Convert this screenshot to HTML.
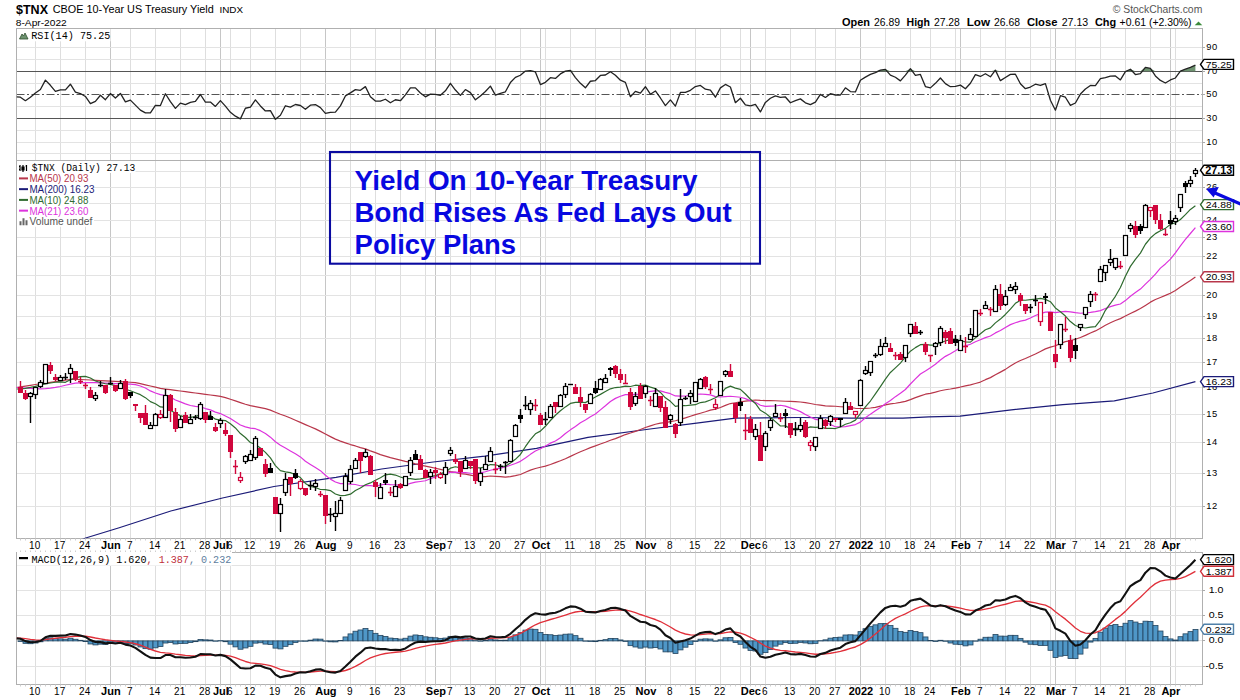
<!DOCTYPE html>
<html><head><meta charset="utf-8"><style>
html,body{margin:0;padding:0;background:#fff;}
body{width:1240px;height:700px;overflow:hidden;}
svg{display:block;}
</style></head><body>
<svg width="1240" height="700" viewBox="0 0 1240 700">
<rect width="1240" height="700" fill="#fff"/>
<defs><clipPath id="cr"><rect x="16.5" y="28.5" width="1186" height="132"/></clipPath><clipPath id="cp"><rect x="16.5" y="160.5" width="1186" height="378"/></clipPath><clipPath id="cm"><rect x="16.5" y="552.5" width="1186" height="132"/></clipPath></defs>
<path d="M35.5 28.5V160.5M60.5 28.5V160.5M85.5 28.5V160.5M130.5 28.5V160.5M155.5 28.5V160.5M180.5 28.5V160.5M205.5 28.5V160.5M230.5 28.5V160.5M250.5 28.5V160.5M275.5 28.5V160.5M300.5 28.5V160.5M350.5 28.5V160.5M375.5 28.5V160.5M400.5 28.5V160.5M425.5 28.5V160.5M450.5 28.5V160.5M470.5 28.5V160.5M495.5 28.5V160.5M520.5 28.5V160.5M545.5 28.5V160.5M570.5 28.5V160.5M595.5 28.5V160.5M620.5 28.5V160.5M670.5 28.5V160.5M695.5 28.5V160.5M720.5 28.5V160.5M740.5 28.5V160.5M765.5 28.5V160.5M790.5 28.5V160.5M815.5 28.5V160.5M835.5 28.5V160.5M885.5 28.5V160.5M910.5 28.5V160.5M930.5 28.5V160.5M955.5 28.5V160.5M980.5 28.5V160.5M1005.5 28.5V160.5M1030.5 28.5V160.5M1050.5 28.5V160.5M1075.5 28.5V160.5M1100.5 28.5V160.5M1125.5 28.5V160.5M1150.5 28.5V160.5M1175.5 28.5V160.5" stroke="#dedede" stroke-width="1" fill="none"/>
<path d="M110.5 28.5V160.5M220.5 28.5V160.5M325.5 28.5V160.5M435.5 28.5V160.5M540.5 28.5V160.5M645.5 28.5V160.5M750.5 28.5V160.5M860.5 28.5V160.5M960.5 28.5V160.5M1055.5 28.5V160.5M1170.5 28.5V160.5" stroke="#c6c6c6" stroke-width="1" fill="none"/>
<path d="M35.5 160.5V538.5M60.5 160.5V538.5M85.5 160.5V538.5M130.5 160.5V538.5M155.5 160.5V538.5M180.5 160.5V538.5M205.5 160.5V538.5M230.5 160.5V538.5M250.5 160.5V538.5M275.5 160.5V538.5M300.5 160.5V538.5M350.5 160.5V538.5M375.5 160.5V538.5M400.5 160.5V538.5M425.5 160.5V538.5M450.5 160.5V538.5M470.5 160.5V538.5M495.5 160.5V538.5M520.5 160.5V538.5M545.5 160.5V538.5M570.5 160.5V538.5M595.5 160.5V538.5M620.5 160.5V538.5M670.5 160.5V538.5M695.5 160.5V538.5M720.5 160.5V538.5M740.5 160.5V538.5M765.5 160.5V538.5M790.5 160.5V538.5M815.5 160.5V538.5M835.5 160.5V538.5M885.5 160.5V538.5M910.5 160.5V538.5M930.5 160.5V538.5M955.5 160.5V538.5M980.5 160.5V538.5M1005.5 160.5V538.5M1030.5 160.5V538.5M1050.5 160.5V538.5M1075.5 160.5V538.5M1100.5 160.5V538.5M1125.5 160.5V538.5M1150.5 160.5V538.5M1175.5 160.5V538.5" stroke="#dedede" stroke-width="1" fill="none"/>
<path d="M110.5 160.5V538.5M220.5 160.5V538.5M325.5 160.5V538.5M435.5 160.5V538.5M540.5 160.5V538.5M645.5 160.5V538.5M750.5 160.5V538.5M860.5 160.5V538.5M960.5 160.5V538.5M1055.5 160.5V538.5M1170.5 160.5V538.5" stroke="#c6c6c6" stroke-width="1" fill="none"/>
<path d="M35.5 552.5V684.5M60.5 552.5V684.5M85.5 552.5V684.5M130.5 552.5V684.5M155.5 552.5V684.5M180.5 552.5V684.5M205.5 552.5V684.5M230.5 552.5V684.5M250.5 552.5V684.5M275.5 552.5V684.5M300.5 552.5V684.5M350.5 552.5V684.5M375.5 552.5V684.5M400.5 552.5V684.5M425.5 552.5V684.5M450.5 552.5V684.5M470.5 552.5V684.5M495.5 552.5V684.5M520.5 552.5V684.5M545.5 552.5V684.5M570.5 552.5V684.5M595.5 552.5V684.5M620.5 552.5V684.5M670.5 552.5V684.5M695.5 552.5V684.5M720.5 552.5V684.5M740.5 552.5V684.5M765.5 552.5V684.5M790.5 552.5V684.5M815.5 552.5V684.5M835.5 552.5V684.5M885.5 552.5V684.5M910.5 552.5V684.5M930.5 552.5V684.5M955.5 552.5V684.5M980.5 552.5V684.5M1005.5 552.5V684.5M1030.5 552.5V684.5M1050.5 552.5V684.5M1075.5 552.5V684.5M1100.5 552.5V684.5M1125.5 552.5V684.5M1150.5 552.5V684.5M1175.5 552.5V684.5" stroke="#dedede" stroke-width="1" fill="none"/>
<path d="M110.5 552.5V684.5M220.5 552.5V684.5M325.5 552.5V684.5M435.5 552.5V684.5M540.5 552.5V684.5M645.5 552.5V684.5M750.5 552.5V684.5M860.5 552.5V684.5M960.5 552.5V684.5M1055.5 552.5V684.5M1170.5 552.5V684.5" stroke="#c6c6c6" stroke-width="1" fill="none"/>
<path d="M16.5 153.5H1202.5M16.5 142.5H1202.5M16.5 130.5H1202.5M16.5 106.5H1202.5M16.5 83.5H1202.5M16.5 59.5H1202.5M16.5 47.5H1202.5M16.5 506.5H1202.5M16.5 473.5H1202.5M16.5 442.5H1202.5M16.5 414.5H1202.5M16.5 387.5H1202.5M16.5 362.5H1202.5M16.5 338.5H1202.5M16.5 316.5H1202.5M16.5 295.5H1202.5M16.5 275.5H1202.5M16.5 256.5H1202.5M16.5 237.5H1202.5M16.5 220.5H1202.5M16.5 203.5H1202.5M16.5 187.5H1202.5M16.5 171.5H1202.5M16.5 666.5H1202.5M16.5 640.5H1202.5M16.5 615.5H1202.5M16.5 590.5H1202.5M16.5 565.5H1202.5" stroke="#e3e3e3" stroke-width="1" fill="none"/>
<path d="M16.5 71.5H1202.5M16.5 118.5H1202.5" stroke="#555" stroke-width="1"/>
<path d="M16.5 94.5H1202.5" stroke="#555" stroke-width="1" stroke-dasharray="8,2.5,2,2.5"/>
<rect x="16.5" y="28.5" width="1186" height="132" fill="none" stroke="#b0b0b0"/>
<rect x="16.5" y="160.5" width="1186" height="378" fill="none" stroke="#b0b0b0"/>
<rect x="16.5" y="552.5" width="1186" height="132" fill="none" stroke="#b0b0b0"/>
<g clip-path="url(#cr)"><path d="M16.5,71.25 L20.4,71.25 L25.4,71.25 L30.4,71.25 L35.4,71.25 L40.4,71.25 L45.4,71.25 L50.4,71.25 L55.4,71.25 L60.4,71.25 L65.4,71.25 L70.4,71.25 L75.4,71.25 L80.4,71.25 L85.4,71.25 L90.4,71.25 L95.4,71.25 L100.4,71.25 L105.4,71.25 L110.4,71.25 L115.4,71.25 L120.4,71.25 L125.4,71.25 L130.4,71.25 L135.4,71.25 L140.4,71.25 L145.4,71.25 L150.4,71.25 L155.4,71.25 L160.4,71.25 L165.4,71.25 L170.4,71.25 L175.4,71.25 L180.4,71.25 L185.4,71.25 L190.4,71.25 L195.4,71.25 L200.4,71.25 L205.4,71.25 L210.4,71.25 L215.4,71.25 L220.4,71.25 L225.4,71.25 L230.4,71.25 L235.4,71.25 L240.4,71.25 L245.4,71.25 L250.4,71.25 L255.4,71.25 L260.4,71.25 L265.4,71.25 L270.4,71.25 L275.4,71.25 L280.4,71.25 L285.4,71.25 L290.4,71.25 L295.4,71.25 L300.4,71.25 L305.4,71.25 L310.4,71.25 L315.4,71.25 L320.4,71.25 L325.4,71.25 L330.4,71.25 L335.4,71.25 L340.4,71.25 L345.4,71.25 L350.4,71.25 L355.4,71.25 L360.4,71.25 L365.4,71.25 L370.4,71.25 L375.4,71.25 L380.4,71.25 L385.4,71.25 L390.4,71.25 L395.4,71.25 L400.4,71.25 L405.4,71.25 L410.4,71.25 L415.4,71.25 L420.4,71.25 L425.4,71.25 L430.4,71.25 L435.4,71.25 L440.4,71.25 L445.4,71.25 L450.4,71.25 L455.4,71.25 L460.4,71.25 L465.4,71.25 L470.4,71.25 L475.4,71.25 L480.4,71.25 L485.4,71.25 L490.4,71.25 L495.4,71.25 L500.4,71.25 L505.4,71.25 L510.4,71.25 L515.4,71.25 L520.4,71.25 L525.4,71.04 L530.4,70.63 L535.4,71.25 L540.4,71.25 L545.4,71.25 L550.4,71.25 L555.4,71.25 L560.4,71.25 L565.4,71.13 L570.4,70.44 L575.4,71.25 L580.4,71.25 L585.4,71.25 L590.4,71.25 L595.4,71.25 L600.4,71.25 L605.4,71.25 L610.4,71.25 L615.4,71.25 L620.4,71.25 L625.4,71.25 L630.4,71.25 L635.4,71.25 L640.4,71.25 L645.4,71.25 L650.4,71.25 L655.4,71.25 L660.4,71.25 L665.4,71.25 L670.4,71.25 L675.4,71.25 L680.4,71.25 L685.4,71.25 L690.4,71.25 L695.4,71.25 L700.4,71.25 L705.4,71.25 L710.4,71.25 L715.4,71.25 L720.4,71.25 L725.4,71.25 L730.4,71.25 L735.4,71.25 L740.4,71.25 L745.4,71.25 L750.4,71.25 L755.4,71.25 L760.4,71.25 L765.4,71.25 L770.4,71.25 L775.4,71.25 L780.4,71.25 L785.4,71.25 L790.4,71.25 L795.4,71.25 L800.4,71.25 L805.4,71.25 L810.4,71.25 L815.4,71.25 L820.4,71.25 L825.4,71.25 L830.4,71.25 L835.4,71.25 L840.4,71.25 L845.4,71.25 L850.4,71.25 L855.4,71.25 L860.4,71.25 L865.4,71.25 L870.4,71.25 L875.4,71.25 L880.4,70.13 L885.4,69.35 L890.4,71.25 L895.4,71.25 L900.4,71.25 L905.4,71.25 L910.4,68.66 L915.4,71.25 L920.4,71.25 L925.4,71.25 L930.4,71.25 L935.4,71.25 L940.4,71.25 L945.4,71.25 L950.4,71.25 L955.4,71.25 L960.4,71.25 L965.4,71.25 L970.4,71.25 L975.4,71.25 L980.4,71.25 L985.4,71.25 L990.4,71.25 L995.4,70.15 L1000.4,71.25 L1005.4,71.25 L1010.4,71.25 L1015.4,71.25 L1020.4,71.25 L1025.4,71.25 L1030.4,71.25 L1035.4,71.25 L1040.4,71.25 L1045.4,71.25 L1050.4,71.25 L1055.4,71.25 L1060.4,71.25 L1065.4,71.25 L1070.4,71.25 L1075.4,71.25 L1080.4,71.25 L1085.4,71.25 L1090.4,71.25 L1095.4,71.25 L1100.4,71.25 L1105.4,71.25 L1110.4,71.25 L1115.4,71.25 L1120.4,71.25 L1125.4,71.25 L1130.4,69.23 L1135.4,71.25 L1140.4,71.25 L1145.4,67.37 L1150.4,68.41 L1155.4,71.25 L1160.4,71.25 L1165.4,71.25 L1170.4,71.25 L1175.4,71.25 L1180.4,71.09 L1185.4,69.13 L1190.4,67.4 L1195.4,65.19 L1195.4,71.25 L16.5,71.25 Z" fill="#6e9370" stroke="none"/><path d="M16.5,118.75 L20.4,118.75 L25.4,118.75 L30.4,118.75 L35.4,118.75 L40.4,118.75 L45.4,118.75 L50.4,118.75 L55.4,118.75 L60.4,118.75 L65.4,118.75 L70.4,118.75 L75.4,118.75 L80.4,118.75 L85.4,118.75 L90.4,118.75 L95.4,118.75 L100.4,118.75 L105.4,118.75 L110.4,118.75 L115.4,118.75 L120.4,118.75 L125.4,118.75 L130.4,118.75 L135.4,118.75 L140.4,118.75 L145.4,118.75 L150.4,118.75 L155.4,118.75 L160.4,118.75 L165.4,118.75 L170.4,118.75 L175.4,118.75 L180.4,118.75 L185.4,118.75 L190.4,118.75 L195.4,118.75 L200.4,118.75 L205.4,118.75 L210.4,118.75 L215.4,118.75 L220.4,118.75 L225.4,118.75 L230.4,118.75 L235.4,118.75 L240.4,118.88 L245.4,118.75 L250.4,118.75 L255.4,118.75 L260.4,118.75 L265.4,118.75 L270.4,118.75 L275.4,119.33 L280.4,118.75 L285.4,118.75 L290.4,118.75 L295.4,118.75 L300.4,118.75 L305.4,118.75 L310.4,118.75 L315.4,118.75 L320.4,118.75 L325.4,118.75 L330.4,118.75 L335.4,118.75 L340.4,118.75 L345.4,118.75 L350.4,118.75 L355.4,118.75 L360.4,118.75 L365.4,118.75 L370.4,118.75 L375.4,118.75 L380.4,118.75 L385.4,118.75 L390.4,118.75 L395.4,118.75 L400.4,118.75 L405.4,118.75 L410.4,118.75 L415.4,118.75 L420.4,118.75 L425.4,118.75 L430.4,118.75 L435.4,118.75 L440.4,118.75 L445.4,118.75 L450.4,118.75 L455.4,118.75 L460.4,118.75 L465.4,118.75 L470.4,118.75 L475.4,118.75 L480.4,118.75 L485.4,118.75 L490.4,118.75 L495.4,118.75 L500.4,118.75 L505.4,118.75 L510.4,118.75 L515.4,118.75 L520.4,118.75 L525.4,118.75 L530.4,118.75 L535.4,118.75 L540.4,118.75 L545.4,118.75 L550.4,118.75 L555.4,118.75 L560.4,118.75 L565.4,118.75 L570.4,118.75 L575.4,118.75 L580.4,118.75 L585.4,118.75 L590.4,118.75 L595.4,118.75 L600.4,118.75 L605.4,118.75 L610.4,118.75 L615.4,118.75 L620.4,118.75 L625.4,118.75 L630.4,118.75 L635.4,118.75 L640.4,118.75 L645.4,118.75 L650.4,118.75 L655.4,118.75 L660.4,118.75 L665.4,118.75 L670.4,118.75 L675.4,118.75 L680.4,118.75 L685.4,118.75 L690.4,118.75 L695.4,118.75 L700.4,118.75 L705.4,118.75 L710.4,118.75 L715.4,118.75 L720.4,118.75 L725.4,118.75 L730.4,118.75 L735.4,118.75 L740.4,118.75 L745.4,118.75 L750.4,118.75 L755.4,118.75 L760.4,118.75 L765.4,118.75 L770.4,118.75 L775.4,118.75 L780.4,118.75 L785.4,118.75 L790.4,118.75 L795.4,118.75 L800.4,118.75 L805.4,118.75 L810.4,118.75 L815.4,118.75 L820.4,118.75 L825.4,118.75 L830.4,118.75 L835.4,118.75 L840.4,118.75 L845.4,118.75 L850.4,118.75 L855.4,118.75 L860.4,118.75 L865.4,118.75 L870.4,118.75 L875.4,118.75 L880.4,118.75 L885.4,118.75 L890.4,118.75 L895.4,118.75 L900.4,118.75 L905.4,118.75 L910.4,118.75 L915.4,118.75 L920.4,118.75 L925.4,118.75 L930.4,118.75 L935.4,118.75 L940.4,118.75 L945.4,118.75 L950.4,118.75 L955.4,118.75 L960.4,118.75 L965.4,118.75 L970.4,118.75 L975.4,118.75 L980.4,118.75 L985.4,118.75 L990.4,118.75 L995.4,118.75 L1000.4,118.75 L1005.4,118.75 L1010.4,118.75 L1015.4,118.75 L1020.4,118.75 L1025.4,118.75 L1030.4,118.75 L1035.4,118.75 L1040.4,118.75 L1045.4,118.75 L1050.4,118.75 L1055.4,118.75 L1060.4,118.75 L1065.4,118.75 L1070.4,118.75 L1075.4,118.75 L1080.4,118.75 L1085.4,118.75 L1090.4,118.75 L1095.4,118.75 L1100.4,118.75 L1105.4,118.75 L1110.4,118.75 L1115.4,118.75 L1120.4,118.75 L1125.4,118.75 L1130.4,118.75 L1135.4,118.75 L1140.4,118.75 L1145.4,118.75 L1150.4,118.75 L1155.4,118.75 L1160.4,118.75 L1165.4,118.75 L1170.4,118.75 L1175.4,118.75 L1180.4,118.75 L1185.4,118.75 L1190.4,118.75 L1195.4,118.75 L1195.4,118.75 L16.5,118.75 Z" fill="#6e9370" stroke="none"/>
<polyline points="16.5,96.78 20.4,97.2 25.4,100.69 30.4,97.19 35.4,93.03 40.4,89.55 45.4,80.16 50.4,85.3 55.4,91.33 60.4,89.87 65.4,89.87 70.4,84.21 75.4,92.18 80.4,93.55 85.4,96.47 90.4,103.67 95.4,101.33 100.4,95.24 105.4,99.7 110.4,93.54 115.4,98.02 120.4,93.43 125.4,101.92 130.4,100.14 135.4,105.16 140.4,110.15 145.4,112.89 150.4,112.89 155.4,105.36 160.4,105.54 165.4,93.75 170.4,101.67 175.4,108.43 180.4,103.09 185.4,104.67 190.4,102.45 195.4,101.48 200.4,94.5 205.4,102.05 210.4,102.05 215.4,106.42 220.4,100.58 225.4,106.14 230.4,112.29 235.4,116.16 240.4,118.88 245.4,108.25 250.4,107.1 255.4,99.83 260.4,105.94 265.4,110.97 270.4,110.61 275.4,119.33 280.4,115.31 285.4,105.78 290.4,107.05 295.4,104.5 300.4,105.5 305.4,109.31 310.4,105.16 315.4,104.56 320.4,107.61 325.4,113.34 330.4,112.4 335.4,112.07 340.4,105.91 345.4,95.92 350.4,92.91 355.4,89.64 360.4,90.29 365.4,86.61 370.4,96.73 375.4,101.07 380.4,101.07 385.4,99.25 390.4,102.78 395.4,99.76 400.4,100.71 405.4,94.84 410.4,87.84 415.4,87.84 420.4,92.98 425.4,96.85 430.4,94.13 435.4,94.34 440.4,95.28 445.4,90.86 450.4,83.28 455.4,90.06 460.4,95.43 465.4,89.55 470.4,92.65 475.4,99.86 480.4,95.95 485.4,91.49 490.4,86.08 495.4,95.09 500.4,93.47 505.4,91.8 510.4,82.57 515.4,77.34 520.4,75.25 525.4,71.04 530.4,70.63 535.4,71.89 540.4,84.54 545.4,82.32 550.4,77.68 555.4,78.4 560.4,73.94 565.4,71.13 570.4,70.44 575.4,77.56 580.4,83.31 585.4,87.84 590.4,81.26 595.4,80.57 600.4,75.46 605.4,75.02 610.4,71.68 615.4,75.27 620.4,80.21 625.4,82.35 630.4,96.74 635.4,91.4 640.4,93.11 645.4,86.73 650.4,94.23 655.4,90.98 660.4,97.99 665.4,105.57 670.4,99.9 675.4,106.12 680.4,92.44 685.4,92.33 690.4,90.31 695.4,86.57 700.4,85.41 705.4,89.23 710.4,90.16 715.4,97.2 720.4,87.88 725.4,84.45 730.4,86.99 735.4,102.68 740.4,98.26 745.4,104.98 750.4,105.79 755.4,104.34 760.4,111.94 765.4,102.38 770.4,98.28 775.4,95.82 780.4,97.42 785.4,96.96 790.4,102.76 795.4,100.6 800.4,98.88 805.4,102.83 810.4,104.6 815.4,102.14 820.4,94.38 825.4,97.46 830.4,93.7 835.4,95 840.4,95 845.4,87.83 850.4,91.56 855.4,91.94 860.4,80.23 865.4,77.11 870.4,74.38 875.4,72.61 880.4,70.13 885.4,69.35 890.4,75.14 895.4,77.25 900.4,80.88 905.4,75.17 910.4,68.66 915.4,75.32 920.4,74.48 925.4,86.56 930.4,87.89 935.4,83.35 940.4,78.01 945.4,83.63 950.4,86.71 955.4,86.47 960.4,85.1 965.4,88.71 970.4,83.27 975.4,74.66 980.4,76.45 985.4,73.74 990.4,76.77 995.4,70.15 1000.4,80.67 1005.4,77.5 1010.4,74.37 1015.4,74.27 1020.4,83.68 1025.4,88.68 1030.4,87.01 1035.4,84.21 1040.4,85.48 1045.4,83.64 1050.4,100.21 1055.4,110.17 1060.4,95.67 1065.4,97.24 1070.4,105.42 1075.4,103.02 1080.4,94.07 1085.4,89.04 1090.4,85.42 1095.4,85.62 1100.4,78.7 1105.4,77.6 1110.4,76.03 1115.4,75.92 1120.4,79.9 1125.4,71.65 1130.4,69.23 1135.4,74.55 1140.4,73.62 1145.4,67.37 1150.4,68.41 1155.4,75.91 1160.4,80.43 1165.4,83.01 1170.4,79.93 1175.4,77.99 1180.4,71.09 1185.4,69.13 1190.4,67.4 1195.4,65.19" fill="none" stroke="#222" stroke-width="1.3" stroke-linejoin="round"/></g>
<g clip-path="url(#cp)">
<polyline points="70,545 85.7,538 119.2,527.7 170.8,511 222.5,498 274,486.5 336,477.4 381.6,469 433.2,462 484.8,456.1 536.5,448.4 588,437.3 650,429 696.6,423.2 735.3,418.1 799.8,417.5 851.5,418.1 903,418.1 928.9,416.8 960,416.2 1011.4,409.8 1062.9,404.6 1114.3,400.8 1152.9,393 1195.4,381.6" fill="none" stroke="#1b1b78" stroke-width="1.2" stroke-linejoin="round"/>
<polyline points="16.5,387.5 20.4,386.88 25.4,386.09 30.4,385.3 35.4,384.51 40.4,383.72 45.4,382.99 50.4,382.29 55.4,381.58 60.4,380.88 65.4,380.17 70.4,379.47 75.4,379.23 80.4,379.49 85.4,379.75 90.4,380.01 95.4,380.28 100.4,380.54 105.4,380.8 110.4,381.08 115.4,381.38 120.4,381.68 125.4,381.98 130.4,382.27 135.4,382.57 140.4,383.65 145.4,384.82 150.4,385.99 155.4,387.18 160.4,388.38 165.4,389.05 170.4,389.71 175.4,390.37 180.4,391.03 185.4,391.69 190.4,392.35 195.4,393.02 200.4,393.68 205.4,394.34 210.4,395 215.4,395.66 220.4,396.32 225.4,397.57 230.4,399.23 235.4,400.9 240.4,402.57 245.4,404.23 250.4,405.62 255.4,406.62 260.4,407.61 265.4,408.61 270.4,410.13 275.4,412.19 280.4,414.22 285.4,415.98 290.4,417.96 295.4,420.22 300.4,422.4 305.4,424.63 310.4,426.76 315.4,428.88 320.4,431.41 325.4,434.06 330.4,436.65 335.4,439.14 340.4,441.15 345.4,442.81 350.4,444.55 355.4,445.95 360.4,447.62 365.4,448.93 370.4,450.87 375.4,452.68 380.4,454.57 385.4,456.15 390.4,457.65 395.4,458.87 400.4,460.13 405.4,461.42 410.4,462.39 415.4,463.81 420.4,465.05 425.4,466.07 430.4,467.2 435.4,468.26 440.4,469.44 445.4,470.51 450.4,471.55 455.4,472.45 460.4,473.56 465.4,474.19 470.4,475.17 475.4,476.15 480.4,476.58 485.4,476.53 490.4,476 495.4,476.28 500.4,476.53 505.4,477.04 510.4,476.69 515.4,475.64 520.4,474.47 525.4,472.21 530.4,470.11 535.4,468.52 540.4,467.29 545.4,466.07 550.4,464.49 555.4,462.68 560.4,460.78 565.4,458.71 570.4,456.41 575.4,453.96 580.4,451.75 585.4,449.74 590.4,447.61 595.4,445.88 600.4,444 605.4,442.26 610.4,440.29 615.4,438.61 620.4,436.66 625.4,434.57 630.4,433.02 635.4,431.31 640.4,429.52 645.4,427.55 650.4,425.85 655.4,424.22 660.4,423.19 665.4,422.58 670.4,421.54 675.4,420.72 680.4,419.3 685.4,417.86 690.4,416.29 695.4,414.64 700.4,413.21 705.4,411.75 710.4,410.16 715.4,409.1 720.4,407.47 725.4,405.38 730.4,403.55 735.4,402.73 740.4,401.88 745.4,401.18 750.4,400.6 755.4,400.02 760.4,400.39 765.4,400.54 770.4,400.57 775.4,400.73 780.4,401.01 785.4,401.23 790.4,401.43 795.4,401.63 800.4,401.99 805.4,402.55 810.4,403.48 815.4,404.48 820.4,405.16 825.4,405.79 830.4,406.07 835.4,406.27 840.4,406.77 845.4,406.97 850.4,407.61 855.4,408.28 860.4,408.52 865.4,408.44 870.4,408.02 875.4,407.41 880.4,406.11 885.4,404.96 890.4,403.95 895.4,403.28 900.4,402.44 905.4,401.41 910.4,399.59 915.4,397.63 920.4,395.86 925.4,394.21 930.4,393.3 935.4,392.13 940.4,390.73 945.4,389.77 950.4,389.01 955.4,388.08 960.4,387.04 965.4,385.84 970.4,384.83 975.4,383.46 980.4,382.06 985.4,379.67 990.4,377.63 995.4,374.69 1000.4,372.1 1005.4,369.38 1010.4,365.92 1015.4,362.94 1020.4,360.54 1025.4,358.51 1030.4,356.31 1035.4,353.99 1040.4,351.41 1045.4,348.86 1050.4,347.1 1055.4,345.79 1060.4,343.62 1065.4,341.65 1070.4,340.58 1075.4,339.25 1080.4,337.53 1085.4,335.4 1090.4,333.01 1095.4,330.92 1100.4,328.15 1105.4,325.29 1110.4,322.82 1115.4,320.54 1120.4,318.59 1125.4,316.06 1130.4,313.45 1135.4,311.13 1140.4,308.59 1145.4,305.38 1150.4,302.14 1155.4,299.51 1160.4,297.49 1165.4,295.42 1170.4,293.18 1175.4,290.45 1180.4,287.11 1185.4,283.8 1190.4,280.6 1195.4,277.03" fill="none" stroke="#b8364a" stroke-width="1.2" stroke-linejoin="round"/>
<polyline points="16.5,387.5 20.4,387.76 25.4,388.09 30.4,388.42 35.4,388.71 40.4,388.94 45.4,388.61 50.4,388.09 55.4,387.39 60.4,386.51 65.4,385.22 70.4,384.11 75.4,383.12 80.4,382.84 85.4,382.66 90.4,382.51 95.4,382.69 100.4,382.87 105.4,383.04 110.4,383.31 115.4,383.62 120.4,383.93 125.4,384.2 130.4,384.05 135.4,384.61 140.4,386.02 145.4,388.02 150.4,390.9 155.4,392.96 160.4,394.6 165.4,395.47 170.4,397.1 175.4,400.01 180.4,401.91 185.4,403.9 190.4,405.5 195.4,406.39 200.4,406.86 205.4,408.55 210.4,409.86 215.4,412.14 220.4,413.58 225.4,416.03 230.4,418.53 235.4,421.79 240.4,425.04 245.4,426.81 250.4,428.12 255.4,428.72 260.4,430.68 265.4,433.44 270.4,437.16 275.4,441.78 280.4,445.18 285.4,448.04 290.4,450.95 295.4,453.79 300.4,456.89 305.4,461.32 310.4,464.48 315.4,467.6 320.4,470.65 325.4,475.26 330.4,479.11 335.4,482 340.4,483.61 345.4,483.58 350.4,484.2 355.4,484.52 360.4,485.73 365.4,485.53 370.4,485.57 375.4,486.23 380.4,485.01 385.4,484.04 390.4,484.67 395.4,484.76 400.4,485.28 405.4,485.05 410.4,483.37 415.4,482.17 420.4,481.51 425.4,480.78 430.4,478.79 435.4,476.92 440.4,475.17 445.4,473.62 450.4,472.38 455.4,472.07 460.4,472.65 465.4,472.59 470.4,473.26 475.4,473.52 480.4,472.86 485.4,471.75 490.4,470.22 495.4,469.16 500.4,468.21 505.4,466.98 510.4,465.22 515.4,463.45 520.4,461.35 525.4,458.07 530.4,454.37 535.4,451.05 540.4,448.74 545.4,446.08 550.4,443.15 555.4,441 560.4,437.72 565.4,433.56 570.4,429.86 575.4,426.44 580.4,422.85 585.4,419.98 590.4,416.76 595.4,414 600.4,409.84 605.4,405.8 610.4,401.49 615.4,398.38 620.4,396.27 625.4,394.59 630.4,394.7 635.4,394.36 640.4,394.1 645.4,392.31 650.4,391.44 655.4,390.82 660.4,390.84 665.4,392.33 670.4,393.69 675.4,395.96 680.4,396.2 685.4,396.01 690.4,395.22 695.4,394.64 700.4,394 705.4,394.37 710.4,394.89 715.4,396.61 720.4,396.99 725.4,396.57 730.4,396.25 735.4,396.77 740.4,397.25 745.4,398.65 750.4,400.85 755.4,402.21 760.4,405.27 765.4,406.44 770.4,406.11 775.4,405.98 780.4,405.26 785.4,406.11 790.4,407.82 795.4,409.56 800.4,411.61 805.4,414.4 810.4,417.07 815.4,419.39 820.4,420.04 825.4,422.27 830.4,424.56 835.4,426.75 840.4,426.8 845.4,426.6 850.4,425.64 855.4,424.57 860.4,422.11 865.4,417.73 870.4,414.13 875.4,410.82 880.4,407.43 885.4,403.69 890.4,400.48 895.4,396.63 900.4,393.34 905.4,389.49 910.4,384.01 915.4,378.9 920.4,373.96 925.4,370.92 930.4,367.69 935.4,364.31 940.4,360.06 945.4,356.35 950.4,353.68 955.4,350.67 960.4,347.49 965.4,345.93 970.4,344.23 975.4,341.76 980.4,339.72 985.4,337.68 990.4,335.99 995.4,332.9 1000.4,330.54 1005.4,327.48 1010.4,324.62 1015.4,322.74 1020.4,321.16 1025.4,320.17 1030.4,318.06 1035.4,315.52 1040.4,313.61 1045.4,312.18 1050.4,311.85 1055.4,312.66 1060.4,311.8 1065.4,311.3 1070.4,311.82 1075.4,312.59 1080.4,313.23 1085.4,312.92 1090.4,312.37 1095.4,311.63 1100.4,310.58 1105.4,308.5 1110.4,306.57 1115.4,305.1 1120.4,304.03 1125.4,300.62 1130.4,296.22 1135.4,292.58 1140.4,289.09 1145.4,284.09 1150.4,279.43 1155.4,274.13 1160.4,268.1 1165.4,263.92 1170.4,259.1 1175.4,252.92 1180.4,245.82 1185.4,239.46 1190.4,233.49 1195.4,227.63" fill="none" stroke="#dd33dd" stroke-width="1.2" stroke-linejoin="round"/>
<polyline points="16.5,389 20.4,388.81 25.4,388.44 30.4,387.44 35.4,386.31 40.4,385.03 45.4,383.97 50.4,382.98 55.4,382.23 60.4,381.84 65.4,382.31 70.4,379.78 75.4,377.81 80.4,376.57 85.4,376.38 90.4,377.96 95.4,381.01 100.4,382.47 105.4,383.74 110.4,384.32 115.4,385.64 120.4,387.24 125.4,389.21 130.4,390.7 135.4,392.74 140.4,394.67 145.4,397.65 150.4,401.6 155.4,403.73 160.4,406.94 165.4,407.44 170.4,410.34 175.4,413.33 180.4,415.66 185.4,417.33 190.4,417.39 195.4,416.55 200.4,414.43 205.4,415.03 210.4,415.59 215.4,419.15 220.4,420.05 225.4,420.55 230.4,423.79 235.4,427.94 240.4,433.57 245.4,437.48 250.4,442.55 255.4,444.4 260.4,448.05 265.4,452.39 270.4,457.81 275.4,465.58 280.4,470.64 285.4,471.95 290.4,472.63 295.4,474.8 300.4,477.59 305.4,483.48 310.4,486.48 315.4,487.44 320.4,489.48 325.4,489.68 330.4,490.62 335.4,493.97 340.4,495.57 345.4,495.45 350.4,494.15 355.4,490.52 360.4,488.07 365.4,484.77 370.4,482.91 375.4,480.19 380.4,477.67 385.4,474.84 390.4,474.11 395.4,475.06 400.4,477.02 405.4,478.68 410.4,478.57 415.4,479.44 420.4,478.93 425.4,478.03 430.4,476.58 435.4,475.56 440.4,473.83 445.4,471.9 450.4,468.18 455.4,466.76 460.4,467.95 465.4,467.92 470.4,467.49 475.4,467.75 480.4,467.79 485.4,466.86 490.4,464.53 495.4,464.79 500.4,466.28 505.4,466.28 510.4,463 515.4,459.34 520.4,454.45 525.4,446.71 530.4,439.66 535.4,433.78 540.4,431.13 545.4,426.27 550.4,420.51 555.4,415.25 560.4,410.79 565.4,406.89 570.4,403.41 575.4,402.29 580.4,402.18 585.4,402.64 590.4,399.67 595.4,397.08 600.4,394.38 605.4,391.45 610.4,388.82 615.4,387.53 620.4,387.11 625.4,386.05 630.4,386.5 635.4,385.21 640.4,385.71 645.4,385.04 650.4,387.08 655.4,388.57 660.4,392.45 665.4,397.8 670.4,401.34 675.4,406.36 680.4,405.5 685.4,405.72 690.4,405.04 695.4,404.69 700.4,402.54 705.4,401.93 710.4,400.03 715.4,397.8 720.4,394.4 725.4,388.35 730.4,386.16 735.4,388.08 740.4,389.39 745.4,393.98 750.4,399.25 755.4,403.42 760.4,410.32 765.4,413.15 770.4,417.21 775.4,421.61 780.4,425.99 785.4,425.79 790.4,428.72 795.4,428.66 800.4,427.84 805.4,428.6 810.4,426.9 815.4,427.28 820.4,427.02 825.4,428.37 830.4,428.23 835.4,428.55 840.4,426.99 845.4,424.21 850.4,422.71 855.4,420.11 860.4,413.73 865.4,406.91 870.4,401.03 875.4,393.81 880.4,386.66 885.4,379.05 890.4,372.45 895.4,367.82 900.4,363.09 905.4,356.81 910.4,351.2 915.4,347.62 920.4,344.66 925.4,344.37 930.4,345.18 935.4,345.11 940.4,342.68 945.4,340.98 950.4,339.35 955.4,339.13 960.4,340.73 965.4,341.93 970.4,342.15 975.4,337.87 980.4,333.67 985.4,329.78 990.4,327.87 995.4,322.86 1000.4,319.1 1005.4,314.46 1010.4,309.15 1015.4,303.33 1020.4,300.22 1025.4,300.27 1030.4,299.66 1035.4,299.17 1040.4,298.46 1045.4,299.34 1050.4,301.74 1055.4,307.95 1060.4,311.73 1065.4,316.05 1070.4,321.57 1075.4,325.54 1080.4,327.28 1085.4,327.98 1090.4,327.08 1095.4,326.67 1100.4,320.12 1105.4,310.29 1110.4,303.48 1115.4,296.29 1120.4,287.47 1125.4,276.18 1130.4,266.37 1135.4,259.3 1140.4,253.12 1145.4,244.25 1150.4,238.02 1155.4,233.62 1160.4,230.71 1165.4,228.35 1170.4,224.4 1175.4,222.7 1180.4,219.54 1185.4,214.66 1190.4,209.43 1195.4,205.78" fill="none" stroke="#2f6b2f" stroke-width="1.2" stroke-linejoin="round"/>
<path d="M20.5 381V387M20.5 393V393" stroke="#d0063c" stroke-width="1.4"/><rect x="18" y="387" width="5" height="6" fill="#d0063c"/><path d="M25.5 390V393M25.5 399V400" stroke="#d0063c" stroke-width="1.4"/><rect x="23" y="393" width="5" height="6" fill="#d0063c"/><path d="M30.5 392V394M30.5 395V423" stroke="#000" stroke-width="1.4"/><rect x="28.5" y="393.5" width="4" height="3" fill="#fff" stroke="#000" stroke-width="1.2"/><path d="M35.5 387V387M35.5 394V399" stroke="#000" stroke-width="1.4"/><rect x="33.5" y="387.5" width="4" height="7" fill="#fff" stroke="#000" stroke-width="1.2"/><path d="M40.5 380V382M40.5 386V388" stroke="#000" stroke-width="1.4"/><rect x="38.5" y="382.5" width="4" height="4" fill="#fff" stroke="#000" stroke-width="1.2"/><path d="M45.5 364V364M45.5 383V383" stroke="#000" stroke-width="1.4"/><rect x="43.5" y="364.5" width="4" height="19" fill="#fff" stroke="#000" stroke-width="1.2"/><path d="M50.5 362V365M50.5 371V374" stroke="#d0063c" stroke-width="1.4"/><rect x="48" y="365" width="5" height="6" fill="#d0063c"/><path d="M55.5 374V377M55.5 380V381" stroke="#d0063c" stroke-width="1.4"/><rect x="53" y="377" width="5" height="3" fill="#d0063c"/><path d="M60.5 375V377M60.5 379V381" stroke="#000" stroke-width="1.4"/><rect x="58.5" y="377.5" width="4" height="3" fill="#fff" stroke="#000" stroke-width="1.2"/><path d="M65.5 373V380M63 377.5H68" stroke="#000" stroke-width="1.4"/><path d="M70.5 364V368M70.5 373V383" stroke="#000" stroke-width="1.4"/><rect x="68.5" y="368.5" width="4" height="5" fill="#fff" stroke="#000" stroke-width="1.2"/><path d="M75.5 371V371M75.5 379V381" stroke="#d0063c" stroke-width="1.4"/><rect x="73" y="371" width="5" height="8" fill="#d0063c"/><path d="M80.5 377V384M78 381.5H83" stroke="#d0063c" stroke-width="1.4"/><path d="M85.5 383V389M83 385.5H88" stroke="#d0063c" stroke-width="1.4"/><path d="M90.5 387V390M90.5 398V398" stroke="#d0063c" stroke-width="1.4"/><rect x="88" y="390" width="5" height="8" fill="#d0063c"/><path d="M95.5 392V395M95.5 398V401" stroke="#000" stroke-width="1.4"/><rect x="93.5" y="395.5" width="4" height="3" fill="#fff" stroke="#000" stroke-width="1.2"/><path d="M100.5 381V387M98 385.5H103" stroke="#000" stroke-width="1.4"/><path d="M105.5 385V385M105.5 393V394" stroke="#d0063c" stroke-width="1.4"/><rect x="103" y="385" width="5" height="8" fill="#d0063c"/><path d="M110.5 377V385M108 383.5H113" stroke="#000" stroke-width="1.4"/><path d="M115.5 385V385M115.5 391V392" stroke="#d0063c" stroke-width="1.4"/><rect x="113" y="385" width="5" height="6" fill="#d0063c"/><path d="M120.5 380V383M120.5 388V389" stroke="#000" stroke-width="1.4"/><rect x="118.5" y="383.5" width="4" height="5" fill="#fff" stroke="#000" stroke-width="1.2"/><path d="M125.5 379V381M125.5 399V400" stroke="#d0063c" stroke-width="1.4"/><rect x="123" y="381" width="5" height="18" fill="#d0063c"/><path d="M130.5 392V392M130.5 396V398" stroke="#000" stroke-width="1.4"/><rect x="128" y="392" width="5" height="4" fill="#000"/><path d="M135.5 404V404M135.5 406V411" stroke="#d0063c" stroke-width="1.4"/><rect x="133" y="404" width="5" height="2" fill="#d0063c"/><path d="M140.5 413V413M140.5 418V423" stroke="#d0063c" stroke-width="1.4"/><rect x="138" y="413" width="5" height="5" fill="#d0063c"/><path d="M145.5 405V413M145.5 425V425" stroke="#d0063c" stroke-width="1.4"/><rect x="143" y="413" width="5" height="12" fill="#d0063c"/><path d="M150.5 422V425M150.5 428V428" stroke="#000" stroke-width="1.4"/><rect x="148.5" y="425.5" width="4" height="3" fill="#fff" stroke="#000" stroke-width="1.2"/><path d="M155.5 413V414M155.5 425V425" stroke="#000" stroke-width="1.4"/><rect x="153.5" y="414.5" width="4" height="11" fill="#fff" stroke="#000" stroke-width="1.2"/><path d="M160.5 410V415M160.5 416V419" stroke="#d0063c" stroke-width="1.4"/><rect x="158.5" y="414.5" width="4" height="3" fill="#fff" stroke="#d0063c" stroke-width="1.2"/><path d="M165.5 389V395M165.5 417V418" stroke="#000" stroke-width="1.4"/><rect x="163.5" y="395.5" width="4" height="22" fill="#fff" stroke="#000" stroke-width="1.2"/><path d="M170.5 394V395M170.5 411V422" stroke="#d0063c" stroke-width="1.4"/><rect x="168" y="395" width="5" height="16" fill="#d0063c"/><path d="M175.5 408V412M175.5 429V432" stroke="#d0063c" stroke-width="1.4"/><rect x="173" y="412" width="5" height="17" fill="#d0063c"/><path d="M180.5 416V419M180.5 427V427" stroke="#000" stroke-width="1.4"/><rect x="178.5" y="419.5" width="4" height="8" fill="#fff" stroke="#000" stroke-width="1.2"/><path d="M185.5 412V415M185.5 423V423" stroke="#d0063c" stroke-width="1.4"/><rect x="183" y="415" width="5" height="8" fill="#d0063c"/><path d="M190.5 414V419M190.5 423V424" stroke="#000" stroke-width="1.4"/><rect x="188.5" y="419.5" width="4" height="4" fill="#fff" stroke="#000" stroke-width="1.2"/><path d="M195.5 415V420M193 417.5H198" stroke="#000" stroke-width="1.4"/><path d="M200.5 402V404M200.5 418V420" stroke="#000" stroke-width="1.4"/><rect x="198.5" y="404.5" width="4" height="14" fill="#fff" stroke="#000" stroke-width="1.2"/><path d="M205.5 412V412M205.5 420V423" stroke="#d0063c" stroke-width="1.4"/><rect x="203" y="412" width="5" height="8" fill="#d0063c"/><path d="M210.5 411V416M210.5 420V420" stroke="#000" stroke-width="1.4"/><rect x="208" y="416" width="5" height="4" fill="#000"/><path d="M215.5 423V427M215.5 431V432" stroke="#d0063c" stroke-width="1.4"/><rect x="213" y="427" width="5" height="4" fill="#d0063c"/><path d="M220.5 418V420M220.5 423V428" stroke="#000" stroke-width="1.4"/><rect x="218.5" y="420.5" width="4" height="3" fill="#fff" stroke="#000" stroke-width="1.2"/><path d="M225.5 423V430M225.5 434V436" stroke="#d0063c" stroke-width="1.4"/><rect x="223" y="430" width="5" height="4" fill="#d0063c"/><path d="M230.5 435V435M230.5 452V458" stroke="#d0063c" stroke-width="1.4"/><rect x="228" y="435" width="5" height="17" fill="#d0063c"/><path d="M235.5 460V474M233 466.5H238" stroke="#d0063c" stroke-width="1.4"/><path d="M240.5 472V477M240.5 479V483" stroke="#d0063c" stroke-width="1.4"/><rect x="238.5" y="477.5" width="4" height="3" fill="#fff" stroke="#d0063c" stroke-width="1.2"/><path d="M245.5 455V456M245.5 461V464" stroke="#000" stroke-width="1.4"/><rect x="243.5" y="456.5" width="4" height="5" fill="#fff" stroke="#000" stroke-width="1.2"/><path d="M250.5 450V454M250.5 460V461" stroke="#000" stroke-width="1.4"/><rect x="248.5" y="454.5" width="4" height="6" fill="#fff" stroke="#000" stroke-width="1.2"/><path d="M255.5 436V438M255.5 457V460" stroke="#000" stroke-width="1.4"/><rect x="253.5" y="438.5" width="4" height="19" fill="#fff" stroke="#000" stroke-width="1.2"/><path d="M260.5 448V448M260.5 456V456" stroke="#d0063c" stroke-width="1.4"/><rect x="258" y="448" width="5" height="8" fill="#d0063c"/><path d="M265.5 459V464M265.5 474V477" stroke="#d0063c" stroke-width="1.4"/><rect x="263" y="464" width="5" height="10" fill="#d0063c"/><path d="M270.5 463V468M270.5 473V473" stroke="#000" stroke-width="1.4"/><rect x="268" y="468" width="5" height="5" fill="#000"/><path d="M275.5 497V497M275.5 514V514" stroke="#d0063c" stroke-width="1.4"/><rect x="273" y="497" width="5" height="17" fill="#d0063c"/><path d="M280.5 498V504M280.5 513V532" stroke="#000" stroke-width="1.4"/><rect x="278.5" y="504.5" width="4" height="9" fill="#fff" stroke="#000" stroke-width="1.2"/><path d="M285.5 473V479M285.5 492V496" stroke="#000" stroke-width="1.4"/><rect x="283.5" y="479.5" width="4" height="13" fill="#fff" stroke="#000" stroke-width="1.2"/><path d="M290.5 477V477M290.5 484V496" stroke="#d0063c" stroke-width="1.4"/><rect x="288" y="477" width="5" height="7" fill="#d0063c"/><path d="M295.5 469V473M295.5 478V479" stroke="#000" stroke-width="1.4"/><rect x="293" y="473" width="5" height="5" fill="#000"/><path d="M300.5 479V481M300.5 488V490" stroke="#d0063c" stroke-width="1.4"/><rect x="298.5" y="481.5" width="4" height="7" fill="#fff" stroke="#d0063c" stroke-width="1.2"/><path d="M305.5 488V488M305.5 495V496" stroke="#d0063c" stroke-width="1.4"/><rect x="303" y="488" width="5" height="7" fill="#d0063c"/><path d="M310.5 481V490M308 485.5H313" stroke="#000" stroke-width="1.4"/><path d="M315.5 479V484M315.5 486V491" stroke="#000" stroke-width="1.4"/><rect x="313.5" y="483.5" width="4" height="3" fill="#fff" stroke="#000" stroke-width="1.2"/><path d="M320.5 491V497M318 494.5H323" stroke="#d0063c" stroke-width="1.4"/><path d="M325.5 495V495M325.5 516V524" stroke="#d0063c" stroke-width="1.4"/><rect x="323" y="495" width="5" height="21" fill="#d0063c"/><path d="M330.5 508V522M328 514.5H333" stroke="#000" stroke-width="1.4"/><path d="M335.5 501V513M335.5 516V531" stroke="#000" stroke-width="1.4"/><rect x="333.5" y="513.5" width="4" height="3" fill="#fff" stroke="#000" stroke-width="1.2"/><path d="M340.5 497V500M340.5 513V513" stroke="#000" stroke-width="1.4"/><rect x="338.5" y="500.5" width="4" height="13" fill="#fff" stroke="#000" stroke-width="1.2"/><path d="M345.5 473V476M345.5 490V490" stroke="#000" stroke-width="1.4"/><rect x="343.5" y="476.5" width="4" height="14" fill="#fff" stroke="#000" stroke-width="1.2"/><path d="M350.5 465V469M350.5 481V484" stroke="#000" stroke-width="1.4"/><rect x="348.5" y="469.5" width="4" height="12" fill="#fff" stroke="#000" stroke-width="1.2"/><path d="M355.5 458V460M355.5 468V469" stroke="#000" stroke-width="1.4"/><rect x="353.5" y="460.5" width="4" height="8" fill="#fff" stroke="#000" stroke-width="1.2"/><path d="M360.5 452V452M360.5 461V473" stroke="#d0063c" stroke-width="1.4"/><rect x="358" y="452" width="5" height="9" fill="#d0063c"/><path d="M365.5 449V452M365.5 456V458" stroke="#000" stroke-width="1.4"/><rect x="363.5" y="452.5" width="4" height="4" fill="#fff" stroke="#000" stroke-width="1.2"/><path d="M370.5 455V456M370.5 475V475" stroke="#d0063c" stroke-width="1.4"/><rect x="368" y="456" width="5" height="19" fill="#d0063c"/><path d="M375.5 480V482M375.5 487V497" stroke="#d0063c" stroke-width="1.4"/><rect x="373" y="482" width="5" height="5" fill="#d0063c"/><path d="M380.5 483V487M380.5 498V499" stroke="#000" stroke-width="1.4"/><rect x="378.5" y="487.5" width="4" height="11" fill="#fff" stroke="#000" stroke-width="1.2"/><path d="M385.5 473V480M385.5 483V485" stroke="#000" stroke-width="1.4"/><rect x="383" y="480" width="5" height="3" fill="#000"/><path d="M390.5 487V496M388 492.5H393" stroke="#d0063c" stroke-width="1.4"/><path d="M395.5 480V486M395.5 496V496" stroke="#000" stroke-width="1.4"/><rect x="393.5" y="486.5" width="4" height="10" fill="#fff" stroke="#000" stroke-width="1.2"/><path d="M400.5 483V484M400.5 488V489" stroke="#d0063c" stroke-width="1.4"/><rect x="398" y="484" width="5" height="4" fill="#d0063c"/><path d="M405.5 476V476M405.5 485V485" stroke="#000" stroke-width="1.4"/><rect x="403.5" y="476.5" width="4" height="9" fill="#fff" stroke="#000" stroke-width="1.2"/><path d="M410.5 457V460M410.5 472V476" stroke="#000" stroke-width="1.4"/><rect x="408.5" y="460.5" width="4" height="12" fill="#fff" stroke="#000" stroke-width="1.2"/><path d="M415.5 450V454M415.5 460V460" stroke="#000" stroke-width="1.4"/><rect x="413" y="454" width="5" height="6" fill="#000"/><path d="M420.5 455V459M420.5 470V470" stroke="#d0063c" stroke-width="1.4"/><rect x="418" y="459" width="5" height="11" fill="#d0063c"/><path d="M425.5 469V470M425.5 478V478" stroke="#d0063c" stroke-width="1.4"/><rect x="423" y="470" width="5" height="8" fill="#d0063c"/><path d="M430.5 469V472M430.5 476V484" stroke="#000" stroke-width="1.4"/><rect x="428.5" y="472.5" width="4" height="4" fill="#fff" stroke="#000" stroke-width="1.2"/><path d="M435.5 467V470M435.5 473V479" stroke="#d0063c" stroke-width="1.4"/><rect x="433" y="470" width="5" height="3" fill="#d0063c"/><path d="M440.5 472V475M440.5 477V479" stroke="#d0063c" stroke-width="1.4"/><rect x="438.5" y="474.5" width="4" height="3" fill="#fff" stroke="#d0063c" stroke-width="1.2"/><path d="M445.5 462V467M445.5 474V484" stroke="#000" stroke-width="1.4"/><rect x="443.5" y="467.5" width="4" height="7" fill="#fff" stroke="#000" stroke-width="1.2"/><path d="M450.5 447V451M450.5 453V456" stroke="#000" stroke-width="1.4"/><rect x="448.5" y="450.5" width="4" height="3" fill="#fff" stroke="#000" stroke-width="1.2"/><path d="M455.5 454V459M455.5 462V464" stroke="#d0063c" stroke-width="1.4"/><rect x="453" y="459" width="5" height="3" fill="#d0063c"/><path d="M460.5 461V461M460.5 472V477" stroke="#d0063c" stroke-width="1.4"/><rect x="458" y="461" width="5" height="11" fill="#d0063c"/><path d="M465.5 456V460M465.5 468V468" stroke="#000" stroke-width="1.4"/><rect x="463.5" y="460.5" width="4" height="8" fill="#fff" stroke="#000" stroke-width="1.2"/><path d="M470.5 461V461M470.5 466V469" stroke="#d0063c" stroke-width="1.4"/><rect x="468" y="461" width="5" height="5" fill="#d0063c"/><path d="M475.5 459V459M475.5 481V484" stroke="#d0063c" stroke-width="1.4"/><rect x="473" y="459" width="5" height="22" fill="#d0063c"/><path d="M480.5 468V473M480.5 481V486" stroke="#000" stroke-width="1.4"/><rect x="478.5" y="473.5" width="4" height="8" fill="#fff" stroke="#000" stroke-width="1.2"/><path d="M485.5 456V464M485.5 469V469" stroke="#000" stroke-width="1.4"/><rect x="483.5" y="464.5" width="4" height="5" fill="#fff" stroke="#000" stroke-width="1.2"/><path d="M490.5 447V451M490.5 461V461" stroke="#000" stroke-width="1.4"/><rect x="488.5" y="451.5" width="4" height="10" fill="#fff" stroke="#000" stroke-width="1.2"/><path d="M495.5 462V474M493 469.5H498" stroke="#d0063c" stroke-width="1.4"/><path d="M500.5 464V471M498 466.5H503" stroke="#000" stroke-width="1.4"/><path d="M505.5 461V474M503 462.5H508" stroke="#000" stroke-width="1.4"/><path d="M510.5 439V440M510.5 461V461" stroke="#000" stroke-width="1.4"/><rect x="508.5" y="440.5" width="4" height="21" fill="#fff" stroke="#000" stroke-width="1.2"/><path d="M515.5 424V425M515.5 436V436" stroke="#000" stroke-width="1.4"/><rect x="513.5" y="425.5" width="4" height="11" fill="#fff" stroke="#000" stroke-width="1.2"/><path d="M520.5 409V415M520.5 419V423" stroke="#000" stroke-width="1.4"/><rect x="518" y="415" width="5" height="4" fill="#000"/><path d="M525.5 396V410M523 405.5H528" stroke="#000" stroke-width="1.4"/><path d="M530.5 400V403M530.5 409V415" stroke="#000" stroke-width="1.4"/><rect x="528.5" y="403.5" width="4" height="6" fill="#fff" stroke="#000" stroke-width="1.2"/><path d="M535.5 399V411M533 405.5H538" stroke="#d0063c" stroke-width="1.4"/><path d="M540.5 413V415M540.5 425V425" stroke="#d0063c" stroke-width="1.4"/><rect x="538" y="415" width="5" height="10" fill="#d0063c"/><path d="M545.5 412V425M543 419.5H548" stroke="#000" stroke-width="1.4"/><path d="M550.5 404V406M550.5 417V417" stroke="#000" stroke-width="1.4"/><rect x="548.5" y="406.5" width="4" height="11" fill="#fff" stroke="#000" stroke-width="1.2"/><path d="M555.5 402V402M555.5 407V413" stroke="#d0063c" stroke-width="1.4"/><rect x="553" y="402" width="5" height="5" fill="#d0063c"/><path d="M560.5 394V395M560.5 406V406" stroke="#000" stroke-width="1.4"/><rect x="558.5" y="395.5" width="4" height="11" fill="#fff" stroke="#000" stroke-width="1.2"/><path d="M565.5 383V386M565.5 394V398" stroke="#000" stroke-width="1.4"/><rect x="563.5" y="386.5" width="4" height="8" fill="#fff" stroke="#000" stroke-width="1.2"/><path d="M570.5 384V384M568 384.5H573" stroke="#000" stroke-width="1.4"/><path d="M575.5 384V387M575.5 394V394" stroke="#d0063c" stroke-width="1.4"/><rect x="573" y="387" width="5" height="7" fill="#d0063c"/><path d="M580.5 387V397M580.5 402V407" stroke="#d0063c" stroke-width="1.4"/><rect x="578" y="397" width="5" height="5" fill="#d0063c"/><path d="M585.5 404V404M585.5 410V413" stroke="#d0063c" stroke-width="1.4"/><rect x="583" y="404" width="5" height="6" fill="#d0063c"/><path d="M590.5 393V394M590.5 403V403" stroke="#000" stroke-width="1.4"/><rect x="588.5" y="394.5" width="4" height="9" fill="#fff" stroke="#000" stroke-width="1.2"/><path d="M595.5 381V388M595.5 393V394" stroke="#000" stroke-width="1.4"/><rect x="593" y="388" width="5" height="5" fill="#000"/><path d="M600.5 378V379M600.5 389V389" stroke="#000" stroke-width="1.4"/><rect x="598.5" y="379.5" width="4" height="10" fill="#fff" stroke="#000" stroke-width="1.2"/><path d="M605.5 374V378M605.5 382V382" stroke="#000" stroke-width="1.4"/><rect x="603.5" y="378.5" width="4" height="4" fill="#fff" stroke="#000" stroke-width="1.2"/><path d="M610.5 367V368M610.5 369V376" stroke="#000" stroke-width="1.4"/><rect x="608" y="368" width="5" height="2" fill="#000"/><path d="M615.5 365V366M615.5 374V378" stroke="#d0063c" stroke-width="1.4"/><rect x="613" y="366" width="5" height="8" fill="#d0063c"/><path d="M620.5 369V374M620.5 380V383" stroke="#d0063c" stroke-width="1.4"/><rect x="618" y="374" width="5" height="6" fill="#d0063c"/><path d="M625.5 374V383M623 383.5H628" stroke="#d0063c" stroke-width="1.4"/><path d="M630.5 388V392M630.5 407V410" stroke="#d0063c" stroke-width="1.4"/><rect x="628" y="392" width="5" height="15" fill="#d0063c"/><path d="M635.5 392V396M635.5 403V406" stroke="#000" stroke-width="1.4"/><rect x="633.5" y="396.5" width="4" height="7" fill="#fff" stroke="#000" stroke-width="1.2"/><path d="M640.5 383V386M640.5 399V399" stroke="#d0063c" stroke-width="1.4"/><rect x="638" y="386" width="5" height="13" fill="#d0063c"/><path d="M645.5 385V386M645.5 393V398" stroke="#000" stroke-width="1.4"/><rect x="643.5" y="386.5" width="4" height="7" fill="#fff" stroke="#000" stroke-width="1.2"/><path d="M650.5 396V406M648 400.5H653" stroke="#d0063c" stroke-width="1.4"/><path d="M655.5 388V393M655.5 406V406" stroke="#000" stroke-width="1.4"/><rect x="653.5" y="393.5" width="4" height="13" fill="#fff" stroke="#000" stroke-width="1.2"/><path d="M660.5 396V396M660.5 408V412" stroke="#d0063c" stroke-width="1.4"/><rect x="658" y="396" width="5" height="12" fill="#d0063c"/><path d="M665.5 401V407M665.5 428V428" stroke="#d0063c" stroke-width="1.4"/><rect x="663" y="407" width="5" height="21" fill="#d0063c"/><path d="M670.5 414V415M670.5 419V424" stroke="#000" stroke-width="1.4"/><rect x="668.5" y="415.5" width="4" height="4" fill="#fff" stroke="#000" stroke-width="1.2"/><path d="M675.5 423V424M675.5 434V438" stroke="#d0063c" stroke-width="1.4"/><rect x="673" y="424" width="5" height="10" fill="#d0063c"/><path d="M680.5 389V399M680.5 422V426" stroke="#000" stroke-width="1.4"/><rect x="678.5" y="399.5" width="4" height="23" fill="#fff" stroke="#000" stroke-width="1.2"/><path d="M685.5 396V400M683 398.5H688" stroke="#000" stroke-width="1.4"/><path d="M690.5 390V393M690.5 395V404" stroke="#000" stroke-width="1.4"/><rect x="688.5" y="393.5" width="4" height="3" fill="#fff" stroke="#000" stroke-width="1.2"/><path d="M695.5 382V382M695.5 401V401" stroke="#000" stroke-width="1.4"/><rect x="693.5" y="382.5" width="4" height="19" fill="#fff" stroke="#000" stroke-width="1.2"/><path d="M700.5 378V379M700.5 388V388" stroke="#000" stroke-width="1.4"/><rect x="698.5" y="379.5" width="4" height="9" fill="#fff" stroke="#000" stroke-width="1.2"/><path d="M705.5 376V377M705.5 387V389" stroke="#d0063c" stroke-width="1.4"/><rect x="703" y="377" width="5" height="10" fill="#d0063c"/><path d="M710.5 384V394M708 389.5H713" stroke="#d0063c" stroke-width="1.4"/><path d="M715.5 399V404M715.5 406V410" stroke="#d0063c" stroke-width="1.4"/><rect x="713.5" y="404.5" width="4" height="3" fill="#fff" stroke="#d0063c" stroke-width="1.2"/><path d="M720.5 381V381M720.5 395V396" stroke="#000" stroke-width="1.4"/><rect x="718.5" y="381.5" width="4" height="14" fill="#fff" stroke="#000" stroke-width="1.2"/><path d="M725.5 370V372M725.5 374V377" stroke="#000" stroke-width="1.4"/><rect x="723.5" y="371.5" width="4" height="3" fill="#fff" stroke="#000" stroke-width="1.2"/><path d="M730.5 364V371M730.5 377V377" stroke="#d0063c" stroke-width="1.4"/><rect x="728" y="371" width="5" height="6" fill="#d0063c"/><path d="M735.5 403V403M735.5 418V423" stroke="#d0063c" stroke-width="1.4"/><rect x="733" y="403" width="5" height="15" fill="#d0063c"/><path d="M740.5 398V402M740.5 406V411" stroke="#000" stroke-width="1.4"/><rect x="738" y="402" width="5" height="4" fill="#000"/><path d="M745.5 414V440M743 430.5H748" stroke="#d0063c" stroke-width="1.4"/><path d="M750.5 416V419M750.5 433V433" stroke="#d0063c" stroke-width="1.4"/><rect x="748" y="419" width="5" height="14" fill="#d0063c"/><path d="M755.5 424V429M755.5 436V440" stroke="#000" stroke-width="1.4"/><rect x="753.5" y="429.5" width="4" height="7" fill="#fff" stroke="#000" stroke-width="1.2"/><path d="M760.5 422V435M760.5 461V461" stroke="#d0063c" stroke-width="1.4"/><rect x="758" y="435" width="5" height="26" fill="#d0063c"/><path d="M765.5 431V433M765.5 446V451" stroke="#000" stroke-width="1.4"/><rect x="763.5" y="433.5" width="4" height="13" fill="#fff" stroke="#000" stroke-width="1.2"/><path d="M770.5 418V420M770.5 427V431" stroke="#000" stroke-width="1.4"/><rect x="768.5" y="420.5" width="4" height="7" fill="#fff" stroke="#000" stroke-width="1.2"/><path d="M775.5 404V413M775.5 416V416" stroke="#000" stroke-width="1.4"/><rect x="773.5" y="413.5" width="4" height="3" fill="#fff" stroke="#000" stroke-width="1.2"/><path d="M780.5 413V422M778 418.5H783" stroke="#d0063c" stroke-width="1.4"/><path d="M785.5 409V413M785.5 416V428" stroke="#000" stroke-width="1.4"/><rect x="783" y="413" width="5" height="3" fill="#000"/><path d="M790.5 423V423M790.5 435V438" stroke="#d0063c" stroke-width="1.4"/><rect x="788" y="423" width="5" height="12" fill="#d0063c"/><path d="M795.5 422V436M793 429.5H798" stroke="#000" stroke-width="1.4"/><path d="M800.5 418V425M800.5 429V432" stroke="#000" stroke-width="1.4"/><rect x="798.5" y="425.5" width="4" height="4" fill="#fff" stroke="#000" stroke-width="1.2"/><path d="M805.5 420V422M805.5 437V438" stroke="#d0063c" stroke-width="1.4"/><rect x="803" y="422" width="5" height="15" fill="#d0063c"/><path d="M810.5 440V443M810.5 444V451" stroke="#d0063c" stroke-width="1.4"/><rect x="808.5" y="442.5" width="4" height="3" fill="#fff" stroke="#d0063c" stroke-width="1.2"/><path d="M815.5 437V437M815.5 446V451" stroke="#000" stroke-width="1.4"/><rect x="813.5" y="437.5" width="4" height="9" fill="#fff" stroke="#000" stroke-width="1.2"/><path d="M820.5 415V418M820.5 428V428" stroke="#000" stroke-width="1.4"/><rect x="818.5" y="418.5" width="4" height="10" fill="#fff" stroke="#000" stroke-width="1.2"/><path d="M825.5 419V420M825.5 426V429" stroke="#d0063c" stroke-width="1.4"/><rect x="823" y="420" width="5" height="6" fill="#d0063c"/><path d="M830.5 415V416M830.5 421V426" stroke="#000" stroke-width="1.4"/><rect x="828.5" y="416.5" width="4" height="5" fill="#fff" stroke="#000" stroke-width="1.2"/><path d="M835.5 418V418M835.5 420V422" stroke="#d0063c" stroke-width="1.4"/><rect x="833" y="418" width="5" height="2" fill="#d0063c"/><path d="M840.5 418V418M840.5 420V427" stroke="#000" stroke-width="1.4"/><rect x="838" y="418" width="5" height="2" fill="#000"/><path d="M845.5 398V402M845.5 413V413" stroke="#000" stroke-width="1.4"/><rect x="843.5" y="402.5" width="4" height="11" fill="#fff" stroke="#000" stroke-width="1.2"/><path d="M850.5 402V406M850.5 410V410" stroke="#d0063c" stroke-width="1.4"/><rect x="848" y="406" width="5" height="4" fill="#d0063c"/><path d="M855.5 411V411M855.5 413V418" stroke="#d0063c" stroke-width="1.4"/><rect x="853.5" y="411.5" width="4" height="3" fill="#fff" stroke="#d0063c" stroke-width="1.2"/><path d="M860.5 379V380M860.5 405V405" stroke="#000" stroke-width="1.4"/><rect x="858.5" y="380.5" width="4" height="25" fill="#fff" stroke="#000" stroke-width="1.2"/><path d="M865.5 366V370M865.5 372V375" stroke="#000" stroke-width="1.4"/><rect x="863.5" y="370.5" width="4" height="3" fill="#fff" stroke="#000" stroke-width="1.2"/><path d="M870.5 361V361M870.5 372V376" stroke="#000" stroke-width="1.4"/><rect x="868.5" y="361.5" width="4" height="11" fill="#fff" stroke="#000" stroke-width="1.2"/><path d="M875.5 353V358M873 355.5H878" stroke="#000" stroke-width="1.4"/><path d="M880.5 339V346M880.5 354V356" stroke="#000" stroke-width="1.4"/><rect x="878.5" y="346.5" width="4" height="8" fill="#fff" stroke="#000" stroke-width="1.2"/><path d="M885.5 337V344M885.5 346V347" stroke="#000" stroke-width="1.4"/><rect x="883.5" y="343.5" width="4" height="3" fill="#fff" stroke="#000" stroke-width="1.2"/><path d="M890.5 343V348M890.5 352V352" stroke="#d0063c" stroke-width="1.4"/><rect x="888" y="348" width="5" height="4" fill="#d0063c"/><path d="M895.5 352V360M893 355.5H898" stroke="#d0063c" stroke-width="1.4"/><path d="M900.5 352V354M900.5 360V360" stroke="#d0063c" stroke-width="1.4"/><rect x="898" y="354" width="5" height="6" fill="#d0063c"/><path d="M905.5 345V345M905.5 357V362" stroke="#000" stroke-width="1.4"/><rect x="903.5" y="345.5" width="4" height="12" fill="#fff" stroke="#000" stroke-width="1.2"/><path d="M910.5 324V324M910.5 333V337" stroke="#000" stroke-width="1.4"/><rect x="908.5" y="324.5" width="4" height="9" fill="#fff" stroke="#000" stroke-width="1.2"/><path d="M915.5 322V326M915.5 334V334" stroke="#d0063c" stroke-width="1.4"/><rect x="913" y="326" width="5" height="8" fill="#d0063c"/><path d="M920.5 330V335M918 332.5H923" stroke="#000" stroke-width="1.4"/><path d="M925.5 342V344M925.5 352V355" stroke="#d0063c" stroke-width="1.4"/><rect x="923" y="344" width="5" height="8" fill="#d0063c"/><path d="M930.5 355V362M928 355.5H933" stroke="#d0063c" stroke-width="1.4"/><path d="M935.5 342V343M935.5 345V355" stroke="#000" stroke-width="1.4"/><rect x="933.5" y="343.5" width="4" height="3" fill="#fff" stroke="#000" stroke-width="1.2"/><path d="M940.5 326V328M940.5 342V346" stroke="#000" stroke-width="1.4"/><rect x="938.5" y="328.5" width="4" height="14" fill="#fff" stroke="#000" stroke-width="1.2"/><path d="M945.5 330V332M945.5 338V344" stroke="#d0063c" stroke-width="1.4"/><rect x="943" y="332" width="5" height="6" fill="#d0063c"/><path d="M950.5 328V331M950.5 344V344" stroke="#d0063c" stroke-width="1.4"/><rect x="948" y="331" width="5" height="13" fill="#d0063c"/><path d="M955.5 335V339M955.5 343V346" stroke="#000" stroke-width="1.4"/><rect x="953" y="339" width="5" height="4" fill="#000"/><path d="M960.5 335V340M960.5 350V350" stroke="#000" stroke-width="1.4"/><rect x="958.5" y="340.5" width="4" height="10" fill="#fff" stroke="#000" stroke-width="1.2"/><path d="M965.5 337V353M963 346.5H968" stroke="#d0063c" stroke-width="1.4"/><path d="M970.5 328V334M970.5 339V339" stroke="#000" stroke-width="1.4"/><rect x="968.5" y="334.5" width="4" height="5" fill="#fff" stroke="#000" stroke-width="1.2"/><path d="M975.5 310V310M975.5 336V336" stroke="#000" stroke-width="1.4"/><rect x="973.5" y="310.5" width="4" height="26" fill="#fff" stroke="#000" stroke-width="1.2"/><path d="M980.5 309V316M978 313.5H983" stroke="#d0063c" stroke-width="1.4"/><path d="M985.5 301V305M985.5 307V307" stroke="#000" stroke-width="1.4"/><rect x="983.5" y="305.5" width="4" height="3" fill="#fff" stroke="#000" stroke-width="1.2"/><path d="M990.5 307V316M988 309.5H993" stroke="#d0063c" stroke-width="1.4"/><path d="M995.5 285V289M995.5 311V311" stroke="#000" stroke-width="1.4"/><rect x="993.5" y="289.5" width="4" height="22" fill="#fff" stroke="#000" stroke-width="1.2"/><path d="M1000.5 284V294M1000.5 306V310" stroke="#d0063c" stroke-width="1.4"/><rect x="998" y="294" width="5" height="12" fill="#d0063c"/><path d="M1005.5 290V296M1005.5 304V306" stroke="#000" stroke-width="1.4"/><rect x="1003.5" y="296.5" width="4" height="8" fill="#fff" stroke="#000" stroke-width="1.2"/><path d="M1010.5 284V287M1010.5 290V291" stroke="#000" stroke-width="1.4"/><rect x="1008.5" y="287.5" width="4" height="3" fill="#fff" stroke="#000" stroke-width="1.2"/><path d="M1015.5 282V286M1015.5 289V294" stroke="#000" stroke-width="1.4"/><rect x="1013.5" y="286.5" width="4" height="3" fill="#fff" stroke="#000" stroke-width="1.2"/><path d="M1020.5 293V295M1020.5 301V306" stroke="#d0063c" stroke-width="1.4"/><rect x="1018" y="295" width="5" height="6" fill="#d0063c"/><path d="M1025.5 304V304M1025.5 311V314" stroke="#d0063c" stroke-width="1.4"/><rect x="1023" y="304" width="5" height="7" fill="#d0063c"/><path d="M1030.5 304V313M1028 307.5H1033" stroke="#000" stroke-width="1.4"/><path d="M1035.5 295V306M1033 300.5H1038" stroke="#000" stroke-width="1.4"/><path d="M1040.5 302V302M1040.5 321V326" stroke="#d0063c" stroke-width="1.4"/><rect x="1038.5" y="302.5" width="4" height="19" fill="#fff" stroke="#d0063c" stroke-width="1.2"/><path d="M1045.5 293V296M1045.5 298V304" stroke="#000" stroke-width="1.4"/><rect x="1043" y="296" width="5" height="2" fill="#000"/><path d="M1050.5 312V312M1050.5 331V331" stroke="#d0063c" stroke-width="1.4"/><rect x="1048" y="312" width="5" height="19" fill="#d0063c"/><path d="M1055.5 340V354M1055.5 362V368" stroke="#d0063c" stroke-width="1.4"/><rect x="1053" y="354" width="5" height="8" fill="#d0063c"/><path d="M1060.5 324V324M1060.5 344V349" stroke="#000" stroke-width="1.4"/><rect x="1058.5" y="324.5" width="4" height="20" fill="#fff" stroke="#000" stroke-width="1.2"/><path d="M1065.5 317V332M1063 329.5H1068" stroke="#d0063c" stroke-width="1.4"/><path d="M1070.5 335V340M1070.5 358V362" stroke="#d0063c" stroke-width="1.4"/><rect x="1068" y="340" width="5" height="18" fill="#d0063c"/><path d="M1075.5 338V345M1075.5 351V359" stroke="#000" stroke-width="1.4"/><rect x="1073" y="345" width="5" height="6" fill="#000"/><path d="M1080.5 324V324M1080.5 327V331" stroke="#000" stroke-width="1.4"/><rect x="1078.5" y="324.5" width="4" height="3" fill="#fff" stroke="#000" stroke-width="1.2"/><path d="M1085.5 307V307M1085.5 314V319" stroke="#000" stroke-width="1.4"/><rect x="1083.5" y="307.5" width="4" height="7" fill="#fff" stroke="#000" stroke-width="1.2"/><path d="M1090.5 291V294M1090.5 301V307" stroke="#000" stroke-width="1.4"/><rect x="1088.5" y="294.5" width="4" height="7" fill="#fff" stroke="#000" stroke-width="1.2"/><path d="M1095.5 292V301M1093 294.5H1098" stroke="#d0063c" stroke-width="1.4"/><path d="M1100.5 266V269M1100.5 281V281" stroke="#000" stroke-width="1.4"/><rect x="1098.5" y="269.5" width="4" height="12" fill="#fff" stroke="#000" stroke-width="1.2"/><path d="M1105.5 265V265M1105.5 272V281" stroke="#000" stroke-width="1.4"/><rect x="1103.5" y="265.5" width="4" height="7" fill="#fff" stroke="#000" stroke-width="1.2"/><path d="M1110.5 249V259M1110.5 262V266" stroke="#000" stroke-width="1.4"/><rect x="1108.5" y="259.5" width="4" height="3" fill="#fff" stroke="#000" stroke-width="1.2"/><path d="M1115.5 258V258M1115.5 267V270" stroke="#000" stroke-width="1.4"/><rect x="1113.5" y="258.5" width="4" height="9" fill="#fff" stroke="#000" stroke-width="1.2"/><path d="M1120.5 261V269M1118 266.5H1123" stroke="#d0063c" stroke-width="1.4"/><path d="M1125.5 235V235M1125.5 255V255" stroke="#000" stroke-width="1.4"/><rect x="1123.5" y="235.5" width="4" height="20" fill="#fff" stroke="#000" stroke-width="1.2"/><path d="M1130.5 223V225M1130.5 228V232" stroke="#000" stroke-width="1.4"/><rect x="1128.5" y="225.5" width="4" height="3" fill="#fff" stroke="#000" stroke-width="1.2"/><path d="M1135.5 221V226M1135.5 235V238" stroke="#d0063c" stroke-width="1.4"/><rect x="1133" y="226" width="5" height="9" fill="#d0063c"/><path d="M1140.5 224V226M1140.5 231V234" stroke="#000" stroke-width="1.4"/><rect x="1138" y="226" width="5" height="5" fill="#000"/><path d="M1145.5 204V205M1145.5 227V227" stroke="#000" stroke-width="1.4"/><rect x="1143.5" y="205.5" width="4" height="22" fill="#fff" stroke="#000" stroke-width="1.2"/><path d="M1150.5 207V207M1150.5 210V217" stroke="#d0063c" stroke-width="1.4"/><rect x="1148.5" y="207.5" width="4" height="3" fill="#fff" stroke="#d0063c" stroke-width="1.2"/><path d="M1155.5 205V205M1155.5 220V224" stroke="#d0063c" stroke-width="1.4"/><rect x="1153" y="205" width="5" height="15" fill="#d0063c"/><path d="M1160.5 214V220M1160.5 229V230" stroke="#d0063c" stroke-width="1.4"/><rect x="1158" y="220" width="5" height="9" fill="#d0063c"/><path d="M1165.5 229V236M1163 234.5H1168" stroke="#d0063c" stroke-width="1.4"/><path d="M1170.5 211V220M1170.5 224V229" stroke="#000" stroke-width="1.4"/><rect x="1168" y="220" width="5" height="4" fill="#000"/><path d="M1175.5 215V218M1175.5 221V225" stroke="#000" stroke-width="1.4"/><rect x="1173.5" y="218.5" width="4" height="3" fill="#fff" stroke="#000" stroke-width="1.2"/><path d="M1180.5 194V194M1180.5 207V212" stroke="#000" stroke-width="1.4"/><rect x="1178.5" y="194.5" width="4" height="13" fill="#fff" stroke="#000" stroke-width="1.2"/><path d="M1185.5 181V183M1185.5 187V193" stroke="#000" stroke-width="1.4"/><rect x="1183" y="183" width="5" height="4" fill="#000"/><path d="M1190.5 176V180M1190.5 183V187" stroke="#000" stroke-width="1.4"/><rect x="1188.5" y="180.5" width="4" height="3" fill="#fff" stroke="#000" stroke-width="1.2"/><path d="M1195.5 168V171M1195.5 173V177" stroke="#000" stroke-width="1.4"/><rect x="1193.5" y="170.5" width="4" height="3" fill="#fff" stroke="#000" stroke-width="1.2"/>
</g>
<g clip-path="url(#cm)">
<g fill="#4f97c7" stroke="#23445e" stroke-width="0.8"><rect x="18" y="640.9" width="5" height="0.67"/><rect x="23" y="640.9" width="5" height="2.44"/><rect x="28" y="640.9" width="5" height="2.81"/><rect x="33" y="640.9" width="5" height="2.12"/><rect x="38" y="640.9" width="5" height="0.88"/><rect x="43" y="638.7" width="5" height="2.2"/><rect x="48" y="637.8" width="5" height="3.1"/><rect x="53" y="638.57" width="5" height="2.33"/><rect x="58" y="638.86" width="5" height="2.04"/><rect x="63" y="639.19" width="5" height="1.71"/><rect x="68" y="638.25" width="5" height="2.65"/><rect x="73" y="639.28" width="5" height="1.62"/><rect x="78" y="640.32" width="5" height="0.58"/><rect x="83" y="640.9" width="5" height="0.71"/><rect x="88" y="640.9" width="5" height="3.08"/><rect x="93" y="640.9" width="5" height="4.02"/><rect x="98" y="640.9" width="5" height="3.29"/><rect x="103" y="640.9" width="5" height="3.61"/><rect x="108" y="640.9" width="5" height="2.41"/><rect x="113" y="640.9" width="5" height="2.47"/><rect x="118" y="640.9" width="5" height="1.45"/><rect x="123" y="640.9" width="5" height="2.64"/><rect x="128" y="640.9" width="5" height="2.88"/><rect x="133" y="640.9" width="5" height="4.11"/><rect x="138" y="640.9" width="5" height="6.04"/><rect x="143" y="640.9" width="5" height="7.74"/><rect x="148" y="640.9" width="5" height="8.35"/><rect x="153" y="640.9" width="5" height="6.93"/><rect x="158" y="640.9" width="5" height="5.64"/><rect x="163" y="640.9" width="5" height="2.13"/><rect x="168" y="640.9" width="5" height="1.61"/><rect x="173" y="640.9" width="5" height="3.08"/><rect x="178" y="640.9" width="5" height="2.57"/><rect x="183" y="640.9" width="5" height="2.45"/><rect x="188" y="640.9" width="5" height="1.66"/><rect x="193" y="640.9" width="5" height="0.75"/><rect x="198" y="639.41" width="5" height="1.49"/><rect x="203" y="639.83" width="5" height="1.07"/><rect x="208" y="640.02" width="5" height="0.88"/><rect x="213" y="640.9" width="5" height="0.32"/><rect x="218" y="640.66" width="5" height="0.3"/><rect x="223" y="640.9" width="5" height="0.8"/><rect x="228" y="640.9" width="5" height="3.27"/><rect x="233" y="640.9" width="5" height="5.97"/><rect x="238" y="640.9" width="5" height="8.34"/><rect x="243" y="640.9" width="5" height="7.04"/><rect x="248" y="640.9" width="5" height="5.42"/><rect x="253" y="640.9" width="5" height="2.24"/><rect x="258" y="640.9" width="5" height="1.86"/><rect x="263" y="640.9" width="5" height="3.18"/><rect x="268" y="640.9" width="5" height="3.54"/><rect x="273" y="640.9" width="5" height="7.22"/><rect x="278" y="640.9" width="5" height="8"/><rect x="283" y="640.9" width="5" height="5.43"/><rect x="288" y="640.9" width="5" height="3.75"/><rect x="293" y="640.9" width="5" height="1.57"/><rect x="298" y="640.9" width="5" height="0.3"/><rect x="303" y="640.9" width="5" height="0.38"/><rect x="308" y="640.14" width="5" height="0.76"/><rect x="313" y="639.04" width="5" height="1.86"/><rect x="318" y="639.14" width="5" height="1.76"/><rect x="323" y="640.9" width="5" height="0.3"/><rect x="328" y="640.9" width="5" height="0.93"/><rect x="333" y="640.9" width="5" height="1.01"/><rect x="338" y="640.42" width="5" height="0.48"/><rect x="343" y="636.94" width="5" height="3.96"/><rect x="348" y="633.9" width="5" height="7"/><rect x="353" y="631.22" width="5" height="9.68"/><rect x="358" y="629.97" width="5" height="10.93"/><rect x="363" y="628.57" width="5" height="12.33"/><rect x="368" y="630.53" width="5" height="10.37"/><rect x="373" y="633.34" width="5" height="7.56"/><rect x="378" y="635.37" width="5" height="5.53"/><rect x="383" y="636.41" width="5" height="4.49"/><rect x="388" y="638.07" width="5" height="2.83"/><rect x="393" y="638.55" width="5" height="2.35"/><rect x="398" y="639.09" width="5" height="1.81"/><rect x="403" y="638.24" width="5" height="2.66"/><rect x="408" y="636.12" width="5" height="4.78"/><rect x="413" y="634.96" width="5" height="5.94"/><rect x="418" y="635.47" width="5" height="5.43"/><rect x="423" y="636.83" width="5" height="4.07"/><rect x="428" y="637.29" width="5" height="3.61"/><rect x="433" y="637.77" width="5" height="3.13"/><rect x="438" y="638.38" width="5" height="2.52"/><rect x="443" y="638.05" width="5" height="2.85"/><rect x="448" y="636.36" width="5" height="4.54"/><rect x="453" y="636.68" width="5" height="4.22"/><rect x="458" y="638.13" width="5" height="2.77"/><rect x="463" y="637.94" width="5" height="2.96"/><rect x="468" y="638.59" width="5" height="2.31"/><rect x="473" y="640.65" width="5" height="0.3"/><rect x="478" y="640.9" width="5" height="0.3"/><rect x="483" y="640.58" width="5" height="0.32"/><rect x="488" y="638.96" width="5" height="1.94"/><rect x="493" y="639.93" width="5" height="0.97"/><rect x="498" y="640.25" width="5" height="0.65"/><rect x="503" y="640.14" width="5" height="0.76"/><rect x="508" y="637.78" width="5" height="3.12"/><rect x="513" y="634.84" width="5" height="6.06"/><rect x="518" y="632.62" width="5" height="8.28"/><rect x="523" y="630.12" width="5" height="10.78"/><rect x="528" y="629.05" width="5" height="11.85"/><rect x="533" y="629.32" width="5" height="11.58"/><rect x="538" y="632.51" width="5" height="8.39"/><rect x="543" y="634.47" width="5" height="6.43"/><rect x="548" y="634.74" width="5" height="6.16"/><rect x="553" y="635.55" width="5" height="5.35"/><rect x="558" y="635.05" width="5" height="5.85"/><rect x="563" y="634.2" width="5" height="6.7"/><rect x="568" y="633.99" width="5" height="6.91"/><rect x="573" y="635.65" width="5" height="5.25"/><rect x="578" y="638.27" width="5" height="2.63"/><rect x="583" y="640.9" width="5" height="0.3"/><rect x="588" y="640.9" width="5" height="0.54"/><rect x="593" y="640.9" width="5" height="0.73"/><rect x="598" y="640.32" width="5" height="0.58"/><rect x="603" y="639.65" width="5" height="1.25"/><rect x="608" y="638.39" width="5" height="2.51"/><rect x="613" y="638.59" width="5" height="2.31"/><rect x="618" y="639.95" width="5" height="0.95"/><rect x="623" y="640.9" width="5" height="0.6"/><rect x="628" y="640.9" width="5" height="4.76"/><rect x="633" y="640.9" width="5" height="6.09"/><rect x="638" y="640.9" width="5" height="7.24"/><rect x="643" y="640.9" width="5" height="6.17"/><rect x="648" y="640.9" width="5" height="7.13"/><rect x="653" y="640.9" width="5" height="6.71"/><rect x="658" y="640.9" width="5" height="8.07"/><rect x="663" y="640.9" width="5" height="10.98"/><rect x="668" y="640.9" width="5" height="10.98"/><rect x="673" y="640.9" width="5" height="12.6"/><rect x="678" y="640.9" width="5" height="8.99"/><rect x="683" y="640.9" width="5" height="6.29"/><rect x="688" y="640.9" width="5" height="3.67"/><rect x="693" y="640.9" width="5" height="0.6"/><rect x="698" y="639.2" width="5" height="1.7"/><rect x="703" y="638.87" width="5" height="2.03"/><rect x="708" y="639.07" width="5" height="1.83"/><rect x="713" y="640.9" width="5" height="0.34"/><rect x="718" y="639.8" width="5" height="1.1"/><rect x="723" y="637.79" width="5" height="3.11"/><rect x="728" y="637.43" width="5" height="3.47"/><rect x="733" y="640.9" width="5" height="1.64"/><rect x="738" y="640.9" width="5" height="3.41"/><rect x="743" y="640.9" width="5" height="7.14"/><rect x="748" y="640.9" width="5" height="9.52"/><rect x="753" y="640.9" width="5" height="10.12"/><rect x="758" y="640.9" width="5" height="13.38"/><rect x="763" y="640.9" width="5" height="11.72"/><rect x="768" y="640.9" width="5" height="8.58"/><rect x="773" y="640.9" width="5" height="5.2"/><rect x="778" y="640.9" width="5" height="3.32"/><rect x="783" y="640.9" width="5" height="1.73"/><rect x="788" y="640.9" width="5" height="2.67"/><rect x="793" y="640.9" width="5" height="2.38"/><rect x="798" y="640.9" width="5" height="1.46"/><rect x="803" y="640.9" width="5" height="2.07"/><rect x="808" y="640.9" width="5" height="2.87"/><rect x="813" y="640.9" width="5" height="2.47"/><rect x="818" y="640.69" width="5" height="0.3"/><rect x="823" y="639.83" width="5" height="1.07"/><rect x="828" y="638.14" width="5" height="2.76"/><rect x="833" y="637.48" width="5" height="3.42"/><rect x="838" y="637.14" width="5" height="3.76"/><rect x="843" y="634.99" width="5" height="5.91"/><rect x="848" y="634.8" width="5" height="6.1"/><rect x="853" y="635.03" width="5" height="5.87"/><rect x="858" y="631.65" width="5" height="9.25"/><rect x="863" y="628.72" width="5" height="12.18"/><rect x="868" y="626.33" width="5" height="14.57"/><rect x="873" y="624.83" width="5" height="16.07"/><rect x="878" y="623.62" width="5" height="17.28"/><rect x="883" y="623.5" width="5" height="17.4"/><rect x="888" y="625.6" width="5" height="15.3"/><rect x="893" y="628.32" width="5" height="12.58"/><rect x="898" y="631.6" width="5" height="9.3"/><rect x="903" y="632.33" width="5" height="8.57"/><rect x="908" y="630.49" width="5" height="10.41"/><rect x="913" y="631.58" width="5" height="9.32"/><rect x="918" y="632.67" width="5" height="8.23"/><rect x="923" y="636.95" width="5" height="3.95"/><rect x="928" y="640.52" width="5" height="0.38"/><rect x="933" y="640.9" width="5" height="0.61"/><rect x="938" y="640.29" width="5" height="0.61"/><rect x="943" y="640.9" width="5" height="0.38"/><rect x="948" y="640.9" width="5" height="2.11"/><rect x="953" y="640.9" width="5" height="3.31"/><rect x="958" y="640.9" width="5" height="3.75"/><rect x="963" y="640.9" width="5" height="4.98"/><rect x="968" y="640.9" width="5" height="4.06"/><rect x="973" y="640.9" width="5" height="0.3"/><rect x="978" y="639.22" width="5" height="1.68"/><rect x="983" y="637.28" width="5" height="3.62"/><rect x="988" y="637.19" width="5" height="3.71"/><rect x="993" y="634.55" width="5" height="6.35"/><rect x="998" y="636.08" width="5" height="4.82"/><rect x="1003" y="636.18" width="5" height="4.72"/><rect x="1008" y="635.31" width="5" height="5.59"/><rect x="1013" y="635.35" width="5" height="5.55"/><rect x="1018" y="638.37" width="5" height="2.53"/><rect x="1023" y="640.9" width="5" height="1.27"/><rect x="1028" y="640.9" width="5" height="3.34"/><rect x="1033" y="640.9" width="5" height="3.8"/><rect x="1038" y="640.9" width="5" height="4.56"/><rect x="1043" y="640.9" width="5" height="4.5"/><rect x="1048" y="640.9" width="5" height="9.41"/><rect x="1053" y="640.9" width="5" height="16.63"/><rect x="1058" y="640.9" width="5" height="15.27"/><rect x="1063" y="640.9" width="5" height="14.53"/><rect x="1068" y="640.9" width="5" height="17.54"/><rect x="1073" y="640.9" width="5" height="17.73"/><rect x="1078" y="640.9" width="5" height="13.19"/><rect x="1083" y="640.9" width="5" height="7.21"/><rect x="1088" y="640.9" width="5" height="1.17"/><rect x="1093" y="638.38" width="5" height="2.52"/><rect x="1098" y="632.2" width="5" height="8.7"/><rect x="1103" y="628.16" width="5" height="12.74"/><rect x="1108" y="625.41" width="5" height="15.49"/><rect x="1113" y="624.59" width="5" height="16.31"/><rect x="1118" y="626.37" width="5" height="14.53"/><rect x="1123" y="623.24" width="5" height="17.66"/><rect x="1128" y="620.61" width="5" height="20.29"/><rect x="1133" y="622.06" width="5" height="18.84"/><rect x="1138" y="623.69" width="5" height="17.21"/><rect x="1143" y="621.19" width="5" height="19.71"/><rect x="1148" y="621.43" width="5" height="19.47"/><rect x="1153" y="625.53" width="5" height="15.37"/><rect x="1158" y="631.02" width="5" height="9.88"/><rect x="1163" y="636.44" width="5" height="4.46"/><rect x="1168" y="638.92" width="5" height="1.98"/><rect x="1173" y="640.02" width="5" height="0.88"/><rect x="1178" y="636.68" width="5" height="4.22"/><rect x="1183" y="633.84" width="5" height="7.06"/><rect x="1188" y="631.61" width="5" height="9.29"/><rect x="1193" y="629.41" width="5" height="11.49"/></g>
<polyline points="16.5,638.19 20.4,638.06 25.4,638.67 30.4,639.37 35.4,639.9 40.4,640.12 45.4,639.57 50.4,638.8 55.4,638.21 60.4,637.7 65.4,637.28 70.4,636.61 75.4,636.21 80.4,636.06 85.4,636.24 90.4,637.01 95.4,638.01 100.4,638.84 105.4,639.74 110.4,640.34 115.4,640.96 120.4,641.32 125.4,641.98 130.4,642.7 135.4,643.73 140.4,645.24 145.4,647.17 150.4,649.26 155.4,650.99 160.4,652.4 165.4,652.94 170.4,653.34 175.4,654.11 180.4,654.75 185.4,655.36 190.4,655.78 195.4,655.97 200.4,655.6 205.4,655.33 210.4,655.11 215.4,655.19 220.4,655.13 225.4,655.33 230.4,656.15 235.4,657.64 240.4,659.72 245.4,661.48 250.4,662.84 255.4,663.4 260.4,663.86 265.4,664.66 270.4,665.54 275.4,667.35 280.4,669.35 285.4,670.7 290.4,671.64 295.4,672.03 300.4,672.08 305.4,672.18 310.4,671.99 315.4,671.52 320.4,671.08 325.4,671.13 330.4,671.36 335.4,671.61 340.4,671.49 345.4,670.5 350.4,668.75 355.4,666.33 360.4,663.6 365.4,660.51 370.4,657.92 375.4,656.03 380.4,654.65 385.4,653.52 390.4,652.82 395.4,652.23 400.4,651.78 405.4,651.11 410.4,649.92 415.4,648.43 420.4,647.07 425.4,646.06 430.4,645.15 435.4,644.37 440.4,643.74 445.4,643.03 450.4,641.89 455.4,640.84 460.4,640.15 465.4,639.41 470.4,638.83 475.4,638.77 480.4,638.84 485.4,638.76 490.4,638.27 495.4,638.03 500.4,637.87 505.4,637.68 510.4,636.9 515.4,635.38 520.4,633.31 525.4,630.62 530.4,627.66 535.4,624.76 540.4,622.66 545.4,621.05 550.4,619.51 555.4,618.18 560.4,616.71 565.4,615.04 570.4,613.31 575.4,612 580.4,611.34 585.4,611.42 590.4,611.56 595.4,611.74 600.4,611.59 605.4,611.28 610.4,610.65 615.4,610.08 620.4,609.84 625.4,609.99 630.4,611.18 635.4,612.7 640.4,614.51 645.4,616.05 650.4,617.84 655.4,619.51 660.4,621.53 665.4,624.28 670.4,627.02 675.4,630.17 680.4,632.42 685.4,633.99 690.4,634.91 695.4,635.06 700.4,634.64 705.4,634.13 710.4,633.67 715.4,633.76 720.4,633.48 725.4,632.7 730.4,631.84 735.4,632.25 740.4,633.1 745.4,634.89 750.4,637.27 755.4,639.8 760.4,643.14 765.4,646.07 770.4,648.22 775.4,649.52 780.4,650.35 785.4,650.78 790.4,651.45 795.4,652.04 800.4,652.41 805.4,652.93 810.4,653.64 815.4,654.26 820.4,654.21 825.4,653.94 830.4,653.25 835.4,652.39 840.4,651.45 845.4,649.98 850.4,648.45 855.4,646.98 860.4,644.67 865.4,641.63 870.4,637.98 875.4,633.97 880.4,629.65 885.4,625.3 890.4,621.47 895.4,618.33 900.4,616 905.4,613.86 910.4,611.26 915.4,608.93 920.4,606.87 925.4,605.88 930.4,605.79 935.4,605.94 940.4,605.79 945.4,605.88 950.4,606.41 955.4,607.23 960.4,608.17 965.4,609.42 970.4,610.43 975.4,610.46 980.4,610.04 985.4,609.14 990.4,608.21 995.4,606.62 1000.4,605.42 1005.4,604.24 1010.4,602.84 1015.4,601.45 1020.4,600.82 1025.4,601.14 1030.4,601.98 1035.4,602.93 1040.4,604.07 1045.4,605.19 1050.4,607.54 1055.4,611.7 1060.4,615.52 1065.4,619.15 1070.4,623.54 1075.4,627.97 1080.4,631.27 1085.4,633.07 1090.4,633.36 1095.4,632.73 1100.4,630.56 1105.4,627.37 1110.4,623.5 1115.4,619.42 1120.4,615.79 1125.4,611.37 1130.4,606.3 1135.4,601.59 1140.4,597.29 1145.4,592.36 1150.4,587.49 1155.4,583.65 1160.4,581.18 1165.4,580.07 1170.4,579.57 1175.4,579.35 1180.4,578.3 1185.4,576.53 1190.4,574.21 1195.4,571.34" fill="none" stroke="#e0303a" stroke-width="1.35" stroke-linejoin="round"/>
<polyline points="16.5,638.39 20.4,638.73 25.4,641.11 30.4,642.18 35.4,642.02 40.4,641 45.4,637.37 50.4,635.7 55.4,635.88 60.4,635.67 65.4,635.56 70.4,633.96 75.4,634.59 80.4,635.48 85.4,636.95 90.4,640.08 95.4,642.03 100.4,642.12 105.4,643.34 110.4,642.75 115.4,643.43 120.4,642.77 125.4,644.62 130.4,645.58 135.4,647.84 140.4,651.28 145.4,654.92 150.4,657.61 155.4,657.93 160.4,658.04 165.4,655.07 170.4,654.95 175.4,657.18 180.4,657.32 185.4,657.82 190.4,657.44 195.4,656.71 200.4,654.11 205.4,654.26 210.4,654.23 215.4,655.51 220.4,654.89 225.4,656.13 230.4,659.42 235.4,663.61 240.4,668.06 245.4,668.53 250.4,668.26 255.4,665.64 260.4,665.72 265.4,667.83 270.4,669.08 275.4,674.57 280.4,677.35 285.4,676.13 290.4,675.39 295.4,673.6 300.4,672.26 305.4,672.56 310.4,671.22 315.4,669.66 320.4,669.32 325.4,671.31 330.4,672.29 335.4,672.62 340.4,671.01 345.4,666.53 350.4,661.75 355.4,656.65 360.4,652.67 365.4,648.18 370.4,647.55 375.4,648.47 380.4,649.11 385.4,649.03 390.4,649.99 395.4,649.88 400.4,649.97 405.4,648.45 410.4,645.13 415.4,642.49 420.4,641.64 425.4,641.98 430.4,641.54 435.4,641.24 440.4,641.22 445.4,640.18 450.4,637.35 455.4,636.62 460.4,637.37 465.4,636.45 470.4,636.52 475.4,638.51 480.4,639.13 485.4,638.44 490.4,636.33 495.4,637.06 500.4,637.22 505.4,636.92 510.4,633.78 515.4,629.32 520.4,625.04 525.4,619.84 530.4,615.8 535.4,613.18 540.4,614.27 545.4,614.62 550.4,613.35 555.4,612.83 560.4,610.86 565.4,608.34 570.4,606.41 575.4,606.75 580.4,608.72 585.4,611.72 590.4,612.1 595.4,612.46 600.4,611.01 605.4,610.03 610.4,608.15 615.4,607.77 620.4,608.89 625.4,610.59 630.4,615.95 635.4,618.79 640.4,621.75 645.4,622.22 650.4,624.96 655.4,626.23 660.4,629.6 665.4,635.26 670.4,638 675.4,642.78 680.4,641.41 685.4,640.29 690.4,638.58 695.4,635.67 700.4,632.94 705.4,632.1 710.4,631.84 715.4,634.09 720.4,632.38 725.4,629.6 730.4,628.37 735.4,633.89 740.4,636.51 745.4,642.03 750.4,646.79 755.4,649.92 760.4,656.53 765.4,657.8 770.4,656.8 775.4,654.71 780.4,653.66 785.4,652.51 790.4,654.12 795.4,654.42 800.4,653.87 805.4,655 810.4,656.51 815.4,656.73 820.4,653.99 825.4,652.88 830.4,650.49 835.4,648.97 840.4,647.69 845.4,644.07 850.4,642.35 855.4,641.11 860.4,635.42 865.4,629.45 870.4,623.42 875.4,617.89 880.4,612.37 885.4,607.9 890.4,606.18 895.4,605.74 900.4,606.71 905.4,605.29 910.4,600.85 915.4,599.6 920.4,598.64 925.4,601.94 930.4,605.4 935.4,606.55 940.4,605.17 945.4,606.26 950.4,608.51 955.4,610.55 960.4,611.93 965.4,614.4 970.4,614.49 975.4,610.58 980.4,608.37 985.4,605.52 990.4,604.5 995.4,600.27 1000.4,600.59 1005.4,599.52 1010.4,597.25 1015.4,595.91 1020.4,598.3 1025.4,602.41 1030.4,605.32 1035.4,606.73 1040.4,608.63 1045.4,609.69 1050.4,616.95 1055.4,628.33 1060.4,630.79 1065.4,633.69 1070.4,641.07 1075.4,645.7 1080.4,644.46 1085.4,640.28 1090.4,634.54 1095.4,630.21 1100.4,621.85 1105.4,614.63 1110.4,608.01 1115.4,603.11 1120.4,601.26 1125.4,593.72 1130.4,586.01 1135.4,582.75 1140.4,580.08 1145.4,572.65 1150.4,568.02 1155.4,568.28 1160.4,571.3 1165.4,575.61 1170.4,577.59 1175.4,578.47 1180.4,574.08 1185.4,569.47 1190.4,564.92 1195.4,559.85" fill="none" stroke="#111" stroke-width="2.1" stroke-linejoin="round"/>
</g>
<text x="34.8" y="549" font-family="Liberation Sans" font-size="10" font-weight="normal" fill="#000" text-anchor="middle" letter-spacing="0.2">10</text>
<text x="34.8" y="695.2" font-family="Liberation Sans" font-size="10" font-weight="normal" fill="#000" text-anchor="middle" letter-spacing="0.2">10</text>
<text x="59.8" y="549" font-family="Liberation Sans" font-size="10" font-weight="normal" fill="#000" text-anchor="middle" letter-spacing="0.2">17</text>
<text x="59.8" y="695.2" font-family="Liberation Sans" font-size="10" font-weight="normal" fill="#000" text-anchor="middle" letter-spacing="0.2">17</text>
<text x="84.8" y="549" font-family="Liberation Sans" font-size="10" font-weight="normal" fill="#000" text-anchor="middle" letter-spacing="0.2">24</text>
<text x="84.8" y="695.2" font-family="Liberation Sans" font-size="10" font-weight="normal" fill="#000" text-anchor="middle" letter-spacing="0.2">24</text>
<text x="110.9" y="549" font-family="Liberation Sans" font-size="11" font-weight="bold" fill="#000" text-anchor="middle" letter-spacing="0">Jun</text>
<text x="110.9" y="695.2" font-family="Liberation Sans" font-size="11" font-weight="bold" fill="#000" text-anchor="middle" letter-spacing="0">Jun</text>
<text x="129.8" y="549" font-family="Liberation Sans" font-size="10" font-weight="normal" fill="#000" text-anchor="middle" letter-spacing="0.2">7</text>
<text x="129.8" y="695.2" font-family="Liberation Sans" font-size="10" font-weight="normal" fill="#000" text-anchor="middle" letter-spacing="0.2">7</text>
<text x="154.8" y="549" font-family="Liberation Sans" font-size="10" font-weight="normal" fill="#000" text-anchor="middle" letter-spacing="0.2">14</text>
<text x="154.8" y="695.2" font-family="Liberation Sans" font-size="10" font-weight="normal" fill="#000" text-anchor="middle" letter-spacing="0.2">14</text>
<text x="179.8" y="549" font-family="Liberation Sans" font-size="10" font-weight="normal" fill="#000" text-anchor="middle" letter-spacing="0.2">21</text>
<text x="179.8" y="695.2" font-family="Liberation Sans" font-size="10" font-weight="normal" fill="#000" text-anchor="middle" letter-spacing="0.2">21</text>
<text x="204.8" y="549" font-family="Liberation Sans" font-size="10" font-weight="normal" fill="#000" text-anchor="middle" letter-spacing="0.2">28</text>
<text x="204.8" y="695.2" font-family="Liberation Sans" font-size="10" font-weight="normal" fill="#000" text-anchor="middle" letter-spacing="0.2">28</text>
<text x="220.9" y="549" font-family="Liberation Sans" font-size="11" font-weight="bold" fill="#000" text-anchor="middle" letter-spacing="0">Jul</text>
<text x="220.9" y="695.2" font-family="Liberation Sans" font-size="11" font-weight="bold" fill="#000" text-anchor="middle" letter-spacing="0">Jul</text>
<text x="229.8" y="549" font-family="Liberation Sans" font-size="10" font-weight="normal" fill="#000" text-anchor="middle" letter-spacing="0.2">6</text>
<text x="229.8" y="695.2" font-family="Liberation Sans" font-size="10" font-weight="normal" fill="#000" text-anchor="middle" letter-spacing="0.2">6</text>
<text x="249.8" y="549" font-family="Liberation Sans" font-size="10" font-weight="normal" fill="#000" text-anchor="middle" letter-spacing="0.2">12</text>
<text x="249.8" y="695.2" font-family="Liberation Sans" font-size="10" font-weight="normal" fill="#000" text-anchor="middle" letter-spacing="0.2">12</text>
<text x="274.8" y="549" font-family="Liberation Sans" font-size="10" font-weight="normal" fill="#000" text-anchor="middle" letter-spacing="0.2">19</text>
<text x="274.8" y="695.2" font-family="Liberation Sans" font-size="10" font-weight="normal" fill="#000" text-anchor="middle" letter-spacing="0.2">19</text>
<text x="299.8" y="549" font-family="Liberation Sans" font-size="10" font-weight="normal" fill="#000" text-anchor="middle" letter-spacing="0.2">26</text>
<text x="299.8" y="695.2" font-family="Liberation Sans" font-size="10" font-weight="normal" fill="#000" text-anchor="middle" letter-spacing="0.2">26</text>
<text x="325.9" y="549" font-family="Liberation Sans" font-size="11" font-weight="bold" fill="#000" text-anchor="middle" letter-spacing="0">Aug</text>
<text x="325.9" y="695.2" font-family="Liberation Sans" font-size="11" font-weight="bold" fill="#000" text-anchor="middle" letter-spacing="0">Aug</text>
<text x="349.8" y="549" font-family="Liberation Sans" font-size="10" font-weight="normal" fill="#000" text-anchor="middle" letter-spacing="0.2">9</text>
<text x="349.8" y="695.2" font-family="Liberation Sans" font-size="10" font-weight="normal" fill="#000" text-anchor="middle" letter-spacing="0.2">9</text>
<text x="374.8" y="549" font-family="Liberation Sans" font-size="10" font-weight="normal" fill="#000" text-anchor="middle" letter-spacing="0.2">16</text>
<text x="374.8" y="695.2" font-family="Liberation Sans" font-size="10" font-weight="normal" fill="#000" text-anchor="middle" letter-spacing="0.2">16</text>
<text x="399.8" y="549" font-family="Liberation Sans" font-size="10" font-weight="normal" fill="#000" text-anchor="middle" letter-spacing="0.2">23</text>
<text x="399.8" y="695.2" font-family="Liberation Sans" font-size="10" font-weight="normal" fill="#000" text-anchor="middle" letter-spacing="0.2">23</text>
<text x="435.9" y="549" font-family="Liberation Sans" font-size="11" font-weight="bold" fill="#000" text-anchor="middle" letter-spacing="0">Sep</text>
<text x="435.9" y="695.2" font-family="Liberation Sans" font-size="11" font-weight="bold" fill="#000" text-anchor="middle" letter-spacing="0">Sep</text>
<text x="449.8" y="549" font-family="Liberation Sans" font-size="10" font-weight="normal" fill="#000" text-anchor="middle" letter-spacing="0.2">7</text>
<text x="449.8" y="695.2" font-family="Liberation Sans" font-size="10" font-weight="normal" fill="#000" text-anchor="middle" letter-spacing="0.2">7</text>
<text x="469.8" y="549" font-family="Liberation Sans" font-size="10" font-weight="normal" fill="#000" text-anchor="middle" letter-spacing="0.2">13</text>
<text x="469.8" y="695.2" font-family="Liberation Sans" font-size="10" font-weight="normal" fill="#000" text-anchor="middle" letter-spacing="0.2">13</text>
<text x="494.8" y="549" font-family="Liberation Sans" font-size="10" font-weight="normal" fill="#000" text-anchor="middle" letter-spacing="0.2">20</text>
<text x="494.8" y="695.2" font-family="Liberation Sans" font-size="10" font-weight="normal" fill="#000" text-anchor="middle" letter-spacing="0.2">20</text>
<text x="519.8" y="549" font-family="Liberation Sans" font-size="10" font-weight="normal" fill="#000" text-anchor="middle" letter-spacing="0.2">27</text>
<text x="519.8" y="695.2" font-family="Liberation Sans" font-size="10" font-weight="normal" fill="#000" text-anchor="middle" letter-spacing="0.2">27</text>
<text x="540.9" y="549" font-family="Liberation Sans" font-size="11" font-weight="bold" fill="#000" text-anchor="middle" letter-spacing="0">Oct</text>
<text x="540.9" y="695.2" font-family="Liberation Sans" font-size="11" font-weight="bold" fill="#000" text-anchor="middle" letter-spacing="0">Oct</text>
<text x="569.8" y="549" font-family="Liberation Sans" font-size="10" font-weight="normal" fill="#000" text-anchor="middle" letter-spacing="0.2">11</text>
<text x="569.8" y="695.2" font-family="Liberation Sans" font-size="10" font-weight="normal" fill="#000" text-anchor="middle" letter-spacing="0.2">11</text>
<text x="594.8" y="549" font-family="Liberation Sans" font-size="10" font-weight="normal" fill="#000" text-anchor="middle" letter-spacing="0.2">18</text>
<text x="594.8" y="695.2" font-family="Liberation Sans" font-size="10" font-weight="normal" fill="#000" text-anchor="middle" letter-spacing="0.2">18</text>
<text x="619.8" y="549" font-family="Liberation Sans" font-size="10" font-weight="normal" fill="#000" text-anchor="middle" letter-spacing="0.2">25</text>
<text x="619.8" y="695.2" font-family="Liberation Sans" font-size="10" font-weight="normal" fill="#000" text-anchor="middle" letter-spacing="0.2">25</text>
<text x="645.9" y="549" font-family="Liberation Sans" font-size="11" font-weight="bold" fill="#000" text-anchor="middle" letter-spacing="0">Nov</text>
<text x="645.9" y="695.2" font-family="Liberation Sans" font-size="11" font-weight="bold" fill="#000" text-anchor="middle" letter-spacing="0">Nov</text>
<text x="669.8" y="549" font-family="Liberation Sans" font-size="10" font-weight="normal" fill="#000" text-anchor="middle" letter-spacing="0.2">8</text>
<text x="669.8" y="695.2" font-family="Liberation Sans" font-size="10" font-weight="normal" fill="#000" text-anchor="middle" letter-spacing="0.2">8</text>
<text x="694.8" y="549" font-family="Liberation Sans" font-size="10" font-weight="normal" fill="#000" text-anchor="middle" letter-spacing="0.2">15</text>
<text x="694.8" y="695.2" font-family="Liberation Sans" font-size="10" font-weight="normal" fill="#000" text-anchor="middle" letter-spacing="0.2">15</text>
<text x="719.8" y="549" font-family="Liberation Sans" font-size="10" font-weight="normal" fill="#000" text-anchor="middle" letter-spacing="0.2">22</text>
<text x="719.8" y="695.2" font-family="Liberation Sans" font-size="10" font-weight="normal" fill="#000" text-anchor="middle" letter-spacing="0.2">22</text>
<text x="750.9" y="549" font-family="Liberation Sans" font-size="11" font-weight="bold" fill="#000" text-anchor="middle" letter-spacing="0">Dec</text>
<text x="750.9" y="695.2" font-family="Liberation Sans" font-size="11" font-weight="bold" fill="#000" text-anchor="middle" letter-spacing="0">Dec</text>
<text x="764.8" y="549" font-family="Liberation Sans" font-size="10" font-weight="normal" fill="#000" text-anchor="middle" letter-spacing="0.2">6</text>
<text x="764.8" y="695.2" font-family="Liberation Sans" font-size="10" font-weight="normal" fill="#000" text-anchor="middle" letter-spacing="0.2">6</text>
<text x="789.8" y="549" font-family="Liberation Sans" font-size="10" font-weight="normal" fill="#000" text-anchor="middle" letter-spacing="0.2">13</text>
<text x="789.8" y="695.2" font-family="Liberation Sans" font-size="10" font-weight="normal" fill="#000" text-anchor="middle" letter-spacing="0.2">13</text>
<text x="814.8" y="549" font-family="Liberation Sans" font-size="10" font-weight="normal" fill="#000" text-anchor="middle" letter-spacing="0.2">20</text>
<text x="814.8" y="695.2" font-family="Liberation Sans" font-size="10" font-weight="normal" fill="#000" text-anchor="middle" letter-spacing="0.2">20</text>
<text x="834.8" y="549" font-family="Liberation Sans" font-size="10" font-weight="normal" fill="#000" text-anchor="middle" letter-spacing="0.2">27</text>
<text x="834.8" y="695.2" font-family="Liberation Sans" font-size="10" font-weight="normal" fill="#000" text-anchor="middle" letter-spacing="0.2">27</text>
<text x="860.9" y="549" font-family="Liberation Sans" font-size="11" font-weight="bold" fill="#000" text-anchor="middle" letter-spacing="0">2022</text>
<text x="860.9" y="695.2" font-family="Liberation Sans" font-size="11" font-weight="bold" fill="#000" text-anchor="middle" letter-spacing="0">2022</text>
<text x="884.8" y="549" font-family="Liberation Sans" font-size="10" font-weight="normal" fill="#000" text-anchor="middle" letter-spacing="0.2">10</text>
<text x="884.8" y="695.2" font-family="Liberation Sans" font-size="10" font-weight="normal" fill="#000" text-anchor="middle" letter-spacing="0.2">10</text>
<text x="909.8" y="549" font-family="Liberation Sans" font-size="10" font-weight="normal" fill="#000" text-anchor="middle" letter-spacing="0.2">18</text>
<text x="909.8" y="695.2" font-family="Liberation Sans" font-size="10" font-weight="normal" fill="#000" text-anchor="middle" letter-spacing="0.2">18</text>
<text x="929.8" y="549" font-family="Liberation Sans" font-size="10" font-weight="normal" fill="#000" text-anchor="middle" letter-spacing="0.2">24</text>
<text x="929.8" y="695.2" font-family="Liberation Sans" font-size="10" font-weight="normal" fill="#000" text-anchor="middle" letter-spacing="0.2">24</text>
<text x="960.9" y="549" font-family="Liberation Sans" font-size="11" font-weight="bold" fill="#000" text-anchor="middle" letter-spacing="0">Feb</text>
<text x="960.9" y="695.2" font-family="Liberation Sans" font-size="11" font-weight="bold" fill="#000" text-anchor="middle" letter-spacing="0">Feb</text>
<text x="979.8" y="549" font-family="Liberation Sans" font-size="10" font-weight="normal" fill="#000" text-anchor="middle" letter-spacing="0.2">7</text>
<text x="979.8" y="695.2" font-family="Liberation Sans" font-size="10" font-weight="normal" fill="#000" text-anchor="middle" letter-spacing="0.2">7</text>
<text x="1004.8" y="549" font-family="Liberation Sans" font-size="10" font-weight="normal" fill="#000" text-anchor="middle" letter-spacing="0.2">14</text>
<text x="1004.8" y="695.2" font-family="Liberation Sans" font-size="10" font-weight="normal" fill="#000" text-anchor="middle" letter-spacing="0.2">14</text>
<text x="1029.8" y="549" font-family="Liberation Sans" font-size="10" font-weight="normal" fill="#000" text-anchor="middle" letter-spacing="0.2">22</text>
<text x="1029.8" y="695.2" font-family="Liberation Sans" font-size="10" font-weight="normal" fill="#000" text-anchor="middle" letter-spacing="0.2">22</text>
<text x="1055.9" y="549" font-family="Liberation Sans" font-size="11" font-weight="bold" fill="#000" text-anchor="middle" letter-spacing="0">Mar</text>
<text x="1055.9" y="695.2" font-family="Liberation Sans" font-size="11" font-weight="bold" fill="#000" text-anchor="middle" letter-spacing="0">Mar</text>
<text x="1074.8" y="549" font-family="Liberation Sans" font-size="10" font-weight="normal" fill="#000" text-anchor="middle" letter-spacing="0.2">7</text>
<text x="1074.8" y="695.2" font-family="Liberation Sans" font-size="10" font-weight="normal" fill="#000" text-anchor="middle" letter-spacing="0.2">7</text>
<text x="1099.8" y="549" font-family="Liberation Sans" font-size="10" font-weight="normal" fill="#000" text-anchor="middle" letter-spacing="0.2">14</text>
<text x="1099.8" y="695.2" font-family="Liberation Sans" font-size="10" font-weight="normal" fill="#000" text-anchor="middle" letter-spacing="0.2">14</text>
<text x="1124.8" y="549" font-family="Liberation Sans" font-size="10" font-weight="normal" fill="#000" text-anchor="middle" letter-spacing="0.2">21</text>
<text x="1124.8" y="695.2" font-family="Liberation Sans" font-size="10" font-weight="normal" fill="#000" text-anchor="middle" letter-spacing="0.2">21</text>
<text x="1149.8" y="549" font-family="Liberation Sans" font-size="10" font-weight="normal" fill="#000" text-anchor="middle" letter-spacing="0.2">28</text>
<text x="1149.8" y="695.2" font-family="Liberation Sans" font-size="10" font-weight="normal" fill="#000" text-anchor="middle" letter-spacing="0.2">28</text>
<text x="1170.9" y="549" font-family="Liberation Sans" font-size="11" font-weight="bold" fill="#000" text-anchor="middle" letter-spacing="0">Apr</text>
<text x="1170.9" y="695.2" font-family="Liberation Sans" font-size="11" font-weight="bold" fill="#000" text-anchor="middle" letter-spacing="0">Apr</text>
<text x="1206.2" y="50" font-family="Liberation Sans" font-size="9.4" font-weight="normal" fill="#000" text-anchor="start" letter-spacing="0.6">90</text>
<text x="1206.2" y="74" font-family="Liberation Sans" font-size="9.4" font-weight="normal" fill="#000" text-anchor="start" letter-spacing="0.6">70</text>
<text x="1206.2" y="97" font-family="Liberation Sans" font-size="9.4" font-weight="normal" fill="#000" text-anchor="start" letter-spacing="0.6">50</text>
<text x="1206.2" y="121" font-family="Liberation Sans" font-size="9.4" font-weight="normal" fill="#000" text-anchor="start" letter-spacing="0.6">30</text>
<text x="1206.2" y="145" font-family="Liberation Sans" font-size="9.4" font-weight="normal" fill="#000" text-anchor="start" letter-spacing="0.6">10</text>
<text x="1206.2" y="509" font-family="Liberation Sans" font-size="9.4" font-weight="normal" fill="#000" text-anchor="start" letter-spacing="0.6">12</text>
<text x="1206.2" y="476" font-family="Liberation Sans" font-size="9.4" font-weight="normal" fill="#000" text-anchor="start" letter-spacing="0.6">13</text>
<text x="1206.2" y="445" font-family="Liberation Sans" font-size="9.4" font-weight="normal" fill="#000" text-anchor="start" letter-spacing="0.6">14</text>
<text x="1206.2" y="417" font-family="Liberation Sans" font-size="9.4" font-weight="normal" fill="#000" text-anchor="start" letter-spacing="0.6">15</text>
<text x="1206.2" y="390" font-family="Liberation Sans" font-size="9.4" font-weight="normal" fill="#000" text-anchor="start" letter-spacing="0.6">16</text>
<text x="1206.2" y="365" font-family="Liberation Sans" font-size="9.4" font-weight="normal" fill="#000" text-anchor="start" letter-spacing="0.6">17</text>
<text x="1206.2" y="341" font-family="Liberation Sans" font-size="9.4" font-weight="normal" fill="#000" text-anchor="start" letter-spacing="0.6">18</text>
<text x="1206.2" y="319" font-family="Liberation Sans" font-size="9.4" font-weight="normal" fill="#000" text-anchor="start" letter-spacing="0.6">19</text>
<text x="1206.2" y="298" font-family="Liberation Sans" font-size="9.4" font-weight="normal" fill="#000" text-anchor="start" letter-spacing="0.6">20</text>
<text x="1206.2" y="278" font-family="Liberation Sans" font-size="9.4" font-weight="normal" fill="#000" text-anchor="start" letter-spacing="0.6">21</text>
<text x="1206.2" y="259" font-family="Liberation Sans" font-size="9.4" font-weight="normal" fill="#000" text-anchor="start" letter-spacing="0.6">22</text>
<text x="1206.2" y="240" font-family="Liberation Sans" font-size="9.4" font-weight="normal" fill="#000" text-anchor="start" letter-spacing="0.6">23</text>
<text x="1206.2" y="223" font-family="Liberation Sans" font-size="9.4" font-weight="normal" fill="#000" text-anchor="start" letter-spacing="0.6">24</text>
<text x="1206.2" y="206" font-family="Liberation Sans" font-size="9.4" font-weight="normal" fill="#000" text-anchor="start" letter-spacing="0.6">25</text>
<text x="1206.2" y="190" font-family="Liberation Sans" font-size="9.4" font-weight="normal" fill="#000" text-anchor="start" letter-spacing="0.6">26</text>
<text x="1223.5" y="593" font-family="Liberation Sans" font-size="9.4" font-weight="normal" fill="#000" text-anchor="end" textLength="14.8" lengthAdjust="spacingAndGlyphs">1.0</text>
<text x="1223.5" y="618" font-family="Liberation Sans" font-size="9.4" font-weight="normal" fill="#000" text-anchor="end" textLength="14.8" lengthAdjust="spacingAndGlyphs">0.5</text>
<text x="1223.5" y="643" font-family="Liberation Sans" font-size="9.4" font-weight="normal" fill="#000" text-anchor="end" textLength="14.8" lengthAdjust="spacingAndGlyphs">0.0</text>
<text x="1223.5" y="669" font-family="Liberation Sans" font-size="9.4" font-weight="normal" fill="#000" text-anchor="end" textLength="18.3" lengthAdjust="spacingAndGlyphs">-0.5</text>
<path d="M1202.5 47.5H1205M1202.5 71.5H1205M1202.5 94.5H1205M1202.5 118.5H1205M1202.5 142.5H1205M1202.5 506.5H1205M1202.5 473.5H1205M1202.5 442.5H1205M1202.5 414.5H1205M1202.5 387.5H1205M1202.5 362.5H1205M1202.5 338.5H1205M1202.5 316.5H1205M1202.5 295.5H1205M1202.5 275.5H1205M1202.5 256.5H1205M1202.5 237.5H1205M1202.5 220.5H1205M1202.5 203.5H1205M1202.5 187.5H1205M1202.5 590.5H1205M1202.5 615.5H1205M1202.5 640.5H1205M1202.5 666.5H1205" stroke="#aaa" stroke-width="1"/>
<path d="M20.5 538.5V540.5M20.5 550.5V552.5M20.5 684.5V686.5M25.5 538.5V540.5M25.5 550.5V552.5M25.5 684.5V686.5M30.5 538.5V540.5M30.5 550.5V552.5M30.5 684.5V686.5M35.5 538.5V540.5M35.5 550.5V552.5M35.5 684.5V686.5M40.5 538.5V540.5M40.5 550.5V552.5M40.5 684.5V686.5M45.5 538.5V540.5M45.5 550.5V552.5M45.5 684.5V686.5M50.5 538.5V540.5M50.5 550.5V552.5M50.5 684.5V686.5M55.5 538.5V540.5M55.5 550.5V552.5M55.5 684.5V686.5M60.5 538.5V540.5M60.5 550.5V552.5M60.5 684.5V686.5M65.5 538.5V540.5M65.5 550.5V552.5M65.5 684.5V686.5M70.5 538.5V540.5M70.5 550.5V552.5M70.5 684.5V686.5M75.5 538.5V540.5M75.5 550.5V552.5M75.5 684.5V686.5M80.5 538.5V540.5M80.5 550.5V552.5M80.5 684.5V686.5M85.5 538.5V540.5M85.5 550.5V552.5M85.5 684.5V686.5M90.5 538.5V540.5M90.5 550.5V552.5M90.5 684.5V686.5M95.5 538.5V540.5M95.5 550.5V552.5M95.5 684.5V686.5M100.5 538.5V540.5M100.5 550.5V552.5M100.5 684.5V686.5M105.5 538.5V540.5M105.5 550.5V552.5M105.5 684.5V686.5M110.5 538.5V540.5M110.5 550.5V552.5M110.5 684.5V686.5M115.5 538.5V540.5M115.5 550.5V552.5M115.5 684.5V686.5M120.5 538.5V540.5M120.5 550.5V552.5M120.5 684.5V686.5M125.5 538.5V540.5M125.5 550.5V552.5M125.5 684.5V686.5M130.5 538.5V540.5M130.5 550.5V552.5M130.5 684.5V686.5M135.5 538.5V540.5M135.5 550.5V552.5M135.5 684.5V686.5M140.5 538.5V540.5M140.5 550.5V552.5M140.5 684.5V686.5M145.5 538.5V540.5M145.5 550.5V552.5M145.5 684.5V686.5M150.5 538.5V540.5M150.5 550.5V552.5M150.5 684.5V686.5M155.5 538.5V540.5M155.5 550.5V552.5M155.5 684.5V686.5M160.5 538.5V540.5M160.5 550.5V552.5M160.5 684.5V686.5M165.5 538.5V540.5M165.5 550.5V552.5M165.5 684.5V686.5M170.5 538.5V540.5M170.5 550.5V552.5M170.5 684.5V686.5M175.5 538.5V540.5M175.5 550.5V552.5M175.5 684.5V686.5M180.5 538.5V540.5M180.5 550.5V552.5M180.5 684.5V686.5M185.5 538.5V540.5M185.5 550.5V552.5M185.5 684.5V686.5M190.5 538.5V540.5M190.5 550.5V552.5M190.5 684.5V686.5M195.5 538.5V540.5M195.5 550.5V552.5M195.5 684.5V686.5M200.5 538.5V540.5M200.5 550.5V552.5M200.5 684.5V686.5M205.5 538.5V540.5M205.5 550.5V552.5M205.5 684.5V686.5M210.5 538.5V540.5M210.5 550.5V552.5M210.5 684.5V686.5M215.5 538.5V540.5M215.5 550.5V552.5M215.5 684.5V686.5M220.5 538.5V540.5M220.5 550.5V552.5M220.5 684.5V686.5M225.5 538.5V540.5M225.5 550.5V552.5M225.5 684.5V686.5M230.5 538.5V540.5M230.5 550.5V552.5M230.5 684.5V686.5M235.5 538.5V540.5M235.5 550.5V552.5M235.5 684.5V686.5M240.5 538.5V540.5M240.5 550.5V552.5M240.5 684.5V686.5M245.5 538.5V540.5M245.5 550.5V552.5M245.5 684.5V686.5M250.5 538.5V540.5M250.5 550.5V552.5M250.5 684.5V686.5M255.5 538.5V540.5M255.5 550.5V552.5M255.5 684.5V686.5M260.5 538.5V540.5M260.5 550.5V552.5M260.5 684.5V686.5M265.5 538.5V540.5M265.5 550.5V552.5M265.5 684.5V686.5M270.5 538.5V540.5M270.5 550.5V552.5M270.5 684.5V686.5M275.5 538.5V540.5M275.5 550.5V552.5M275.5 684.5V686.5M280.5 538.5V540.5M280.5 550.5V552.5M280.5 684.5V686.5M285.5 538.5V540.5M285.5 550.5V552.5M285.5 684.5V686.5M290.5 538.5V540.5M290.5 550.5V552.5M290.5 684.5V686.5M295.5 538.5V540.5M295.5 550.5V552.5M295.5 684.5V686.5M300.5 538.5V540.5M300.5 550.5V552.5M300.5 684.5V686.5M305.5 538.5V540.5M305.5 550.5V552.5M305.5 684.5V686.5M310.5 538.5V540.5M310.5 550.5V552.5M310.5 684.5V686.5M315.5 538.5V540.5M315.5 550.5V552.5M315.5 684.5V686.5M320.5 538.5V540.5M320.5 550.5V552.5M320.5 684.5V686.5M325.5 538.5V540.5M325.5 550.5V552.5M325.5 684.5V686.5M330.5 538.5V540.5M330.5 550.5V552.5M330.5 684.5V686.5M335.5 538.5V540.5M335.5 550.5V552.5M335.5 684.5V686.5M340.5 538.5V540.5M340.5 550.5V552.5M340.5 684.5V686.5M345.5 538.5V540.5M345.5 550.5V552.5M345.5 684.5V686.5M350.5 538.5V540.5M350.5 550.5V552.5M350.5 684.5V686.5M355.5 538.5V540.5M355.5 550.5V552.5M355.5 684.5V686.5M360.5 538.5V540.5M360.5 550.5V552.5M360.5 684.5V686.5M365.5 538.5V540.5M365.5 550.5V552.5M365.5 684.5V686.5M370.5 538.5V540.5M370.5 550.5V552.5M370.5 684.5V686.5M375.5 538.5V540.5M375.5 550.5V552.5M375.5 684.5V686.5M380.5 538.5V540.5M380.5 550.5V552.5M380.5 684.5V686.5M385.5 538.5V540.5M385.5 550.5V552.5M385.5 684.5V686.5M390.5 538.5V540.5M390.5 550.5V552.5M390.5 684.5V686.5M395.5 538.5V540.5M395.5 550.5V552.5M395.5 684.5V686.5M400.5 538.5V540.5M400.5 550.5V552.5M400.5 684.5V686.5M405.5 538.5V540.5M405.5 550.5V552.5M405.5 684.5V686.5M410.5 538.5V540.5M410.5 550.5V552.5M410.5 684.5V686.5M415.5 538.5V540.5M415.5 550.5V552.5M415.5 684.5V686.5M420.5 538.5V540.5M420.5 550.5V552.5M420.5 684.5V686.5M425.5 538.5V540.5M425.5 550.5V552.5M425.5 684.5V686.5M430.5 538.5V540.5M430.5 550.5V552.5M430.5 684.5V686.5M435.5 538.5V540.5M435.5 550.5V552.5M435.5 684.5V686.5M440.5 538.5V540.5M440.5 550.5V552.5M440.5 684.5V686.5M445.5 538.5V540.5M445.5 550.5V552.5M445.5 684.5V686.5M450.5 538.5V540.5M450.5 550.5V552.5M450.5 684.5V686.5M455.5 538.5V540.5M455.5 550.5V552.5M455.5 684.5V686.5M460.5 538.5V540.5M460.5 550.5V552.5M460.5 684.5V686.5M465.5 538.5V540.5M465.5 550.5V552.5M465.5 684.5V686.5M470.5 538.5V540.5M470.5 550.5V552.5M470.5 684.5V686.5M475.5 538.5V540.5M475.5 550.5V552.5M475.5 684.5V686.5M480.5 538.5V540.5M480.5 550.5V552.5M480.5 684.5V686.5M485.5 538.5V540.5M485.5 550.5V552.5M485.5 684.5V686.5M490.5 538.5V540.5M490.5 550.5V552.5M490.5 684.5V686.5M495.5 538.5V540.5M495.5 550.5V552.5M495.5 684.5V686.5M500.5 538.5V540.5M500.5 550.5V552.5M500.5 684.5V686.5M505.5 538.5V540.5M505.5 550.5V552.5M505.5 684.5V686.5M510.5 538.5V540.5M510.5 550.5V552.5M510.5 684.5V686.5M515.5 538.5V540.5M515.5 550.5V552.5M515.5 684.5V686.5M520.5 538.5V540.5M520.5 550.5V552.5M520.5 684.5V686.5M525.5 538.5V540.5M525.5 550.5V552.5M525.5 684.5V686.5M530.5 538.5V540.5M530.5 550.5V552.5M530.5 684.5V686.5M535.5 538.5V540.5M535.5 550.5V552.5M535.5 684.5V686.5M540.5 538.5V540.5M540.5 550.5V552.5M540.5 684.5V686.5M545.5 538.5V540.5M545.5 550.5V552.5M545.5 684.5V686.5M550.5 538.5V540.5M550.5 550.5V552.5M550.5 684.5V686.5M555.5 538.5V540.5M555.5 550.5V552.5M555.5 684.5V686.5M560.5 538.5V540.5M560.5 550.5V552.5M560.5 684.5V686.5M565.5 538.5V540.5M565.5 550.5V552.5M565.5 684.5V686.5M570.5 538.5V540.5M570.5 550.5V552.5M570.5 684.5V686.5M575.5 538.5V540.5M575.5 550.5V552.5M575.5 684.5V686.5M580.5 538.5V540.5M580.5 550.5V552.5M580.5 684.5V686.5M585.5 538.5V540.5M585.5 550.5V552.5M585.5 684.5V686.5M590.5 538.5V540.5M590.5 550.5V552.5M590.5 684.5V686.5M595.5 538.5V540.5M595.5 550.5V552.5M595.5 684.5V686.5M600.5 538.5V540.5M600.5 550.5V552.5M600.5 684.5V686.5M605.5 538.5V540.5M605.5 550.5V552.5M605.5 684.5V686.5M610.5 538.5V540.5M610.5 550.5V552.5M610.5 684.5V686.5M615.5 538.5V540.5M615.5 550.5V552.5M615.5 684.5V686.5M620.5 538.5V540.5M620.5 550.5V552.5M620.5 684.5V686.5M625.5 538.5V540.5M625.5 550.5V552.5M625.5 684.5V686.5M630.5 538.5V540.5M630.5 550.5V552.5M630.5 684.5V686.5M635.5 538.5V540.5M635.5 550.5V552.5M635.5 684.5V686.5M640.5 538.5V540.5M640.5 550.5V552.5M640.5 684.5V686.5M645.5 538.5V540.5M645.5 550.5V552.5M645.5 684.5V686.5M650.5 538.5V540.5M650.5 550.5V552.5M650.5 684.5V686.5M655.5 538.5V540.5M655.5 550.5V552.5M655.5 684.5V686.5M660.5 538.5V540.5M660.5 550.5V552.5M660.5 684.5V686.5M665.5 538.5V540.5M665.5 550.5V552.5M665.5 684.5V686.5M670.5 538.5V540.5M670.5 550.5V552.5M670.5 684.5V686.5M675.5 538.5V540.5M675.5 550.5V552.5M675.5 684.5V686.5M680.5 538.5V540.5M680.5 550.5V552.5M680.5 684.5V686.5M685.5 538.5V540.5M685.5 550.5V552.5M685.5 684.5V686.5M690.5 538.5V540.5M690.5 550.5V552.5M690.5 684.5V686.5M695.5 538.5V540.5M695.5 550.5V552.5M695.5 684.5V686.5M700.5 538.5V540.5M700.5 550.5V552.5M700.5 684.5V686.5M705.5 538.5V540.5M705.5 550.5V552.5M705.5 684.5V686.5M710.5 538.5V540.5M710.5 550.5V552.5M710.5 684.5V686.5M715.5 538.5V540.5M715.5 550.5V552.5M715.5 684.5V686.5M720.5 538.5V540.5M720.5 550.5V552.5M720.5 684.5V686.5M725.5 538.5V540.5M725.5 550.5V552.5M725.5 684.5V686.5M730.5 538.5V540.5M730.5 550.5V552.5M730.5 684.5V686.5M735.5 538.5V540.5M735.5 550.5V552.5M735.5 684.5V686.5M740.5 538.5V540.5M740.5 550.5V552.5M740.5 684.5V686.5M745.5 538.5V540.5M745.5 550.5V552.5M745.5 684.5V686.5M750.5 538.5V540.5M750.5 550.5V552.5M750.5 684.5V686.5M755.5 538.5V540.5M755.5 550.5V552.5M755.5 684.5V686.5M760.5 538.5V540.5M760.5 550.5V552.5M760.5 684.5V686.5M765.5 538.5V540.5M765.5 550.5V552.5M765.5 684.5V686.5M770.5 538.5V540.5M770.5 550.5V552.5M770.5 684.5V686.5M775.5 538.5V540.5M775.5 550.5V552.5M775.5 684.5V686.5M780.5 538.5V540.5M780.5 550.5V552.5M780.5 684.5V686.5M785.5 538.5V540.5M785.5 550.5V552.5M785.5 684.5V686.5M790.5 538.5V540.5M790.5 550.5V552.5M790.5 684.5V686.5M795.5 538.5V540.5M795.5 550.5V552.5M795.5 684.5V686.5M800.5 538.5V540.5M800.5 550.5V552.5M800.5 684.5V686.5M805.5 538.5V540.5M805.5 550.5V552.5M805.5 684.5V686.5M810.5 538.5V540.5M810.5 550.5V552.5M810.5 684.5V686.5M815.5 538.5V540.5M815.5 550.5V552.5M815.5 684.5V686.5M820.5 538.5V540.5M820.5 550.5V552.5M820.5 684.5V686.5M825.5 538.5V540.5M825.5 550.5V552.5M825.5 684.5V686.5M830.5 538.5V540.5M830.5 550.5V552.5M830.5 684.5V686.5M835.5 538.5V540.5M835.5 550.5V552.5M835.5 684.5V686.5M840.5 538.5V540.5M840.5 550.5V552.5M840.5 684.5V686.5M845.5 538.5V540.5M845.5 550.5V552.5M845.5 684.5V686.5M850.5 538.5V540.5M850.5 550.5V552.5M850.5 684.5V686.5M855.5 538.5V540.5M855.5 550.5V552.5M855.5 684.5V686.5M860.5 538.5V540.5M860.5 550.5V552.5M860.5 684.5V686.5M865.5 538.5V540.5M865.5 550.5V552.5M865.5 684.5V686.5M870.5 538.5V540.5M870.5 550.5V552.5M870.5 684.5V686.5M875.5 538.5V540.5M875.5 550.5V552.5M875.5 684.5V686.5M880.5 538.5V540.5M880.5 550.5V552.5M880.5 684.5V686.5M885.5 538.5V540.5M885.5 550.5V552.5M885.5 684.5V686.5M890.5 538.5V540.5M890.5 550.5V552.5M890.5 684.5V686.5M895.5 538.5V540.5M895.5 550.5V552.5M895.5 684.5V686.5M900.5 538.5V540.5M900.5 550.5V552.5M900.5 684.5V686.5M905.5 538.5V540.5M905.5 550.5V552.5M905.5 684.5V686.5M910.5 538.5V540.5M910.5 550.5V552.5M910.5 684.5V686.5M915.5 538.5V540.5M915.5 550.5V552.5M915.5 684.5V686.5M920.5 538.5V540.5M920.5 550.5V552.5M920.5 684.5V686.5M925.5 538.5V540.5M925.5 550.5V552.5M925.5 684.5V686.5M930.5 538.5V540.5M930.5 550.5V552.5M930.5 684.5V686.5M935.5 538.5V540.5M935.5 550.5V552.5M935.5 684.5V686.5M940.5 538.5V540.5M940.5 550.5V552.5M940.5 684.5V686.5M945.5 538.5V540.5M945.5 550.5V552.5M945.5 684.5V686.5M950.5 538.5V540.5M950.5 550.5V552.5M950.5 684.5V686.5M955.5 538.5V540.5M955.5 550.5V552.5M955.5 684.5V686.5M960.5 538.5V540.5M960.5 550.5V552.5M960.5 684.5V686.5M965.5 538.5V540.5M965.5 550.5V552.5M965.5 684.5V686.5M970.5 538.5V540.5M970.5 550.5V552.5M970.5 684.5V686.5M975.5 538.5V540.5M975.5 550.5V552.5M975.5 684.5V686.5M980.5 538.5V540.5M980.5 550.5V552.5M980.5 684.5V686.5M985.5 538.5V540.5M985.5 550.5V552.5M985.5 684.5V686.5M990.5 538.5V540.5M990.5 550.5V552.5M990.5 684.5V686.5M995.5 538.5V540.5M995.5 550.5V552.5M995.5 684.5V686.5M1000.5 538.5V540.5M1000.5 550.5V552.5M1000.5 684.5V686.5M1005.5 538.5V540.5M1005.5 550.5V552.5M1005.5 684.5V686.5M1010.5 538.5V540.5M1010.5 550.5V552.5M1010.5 684.5V686.5M1015.5 538.5V540.5M1015.5 550.5V552.5M1015.5 684.5V686.5M1020.5 538.5V540.5M1020.5 550.5V552.5M1020.5 684.5V686.5M1025.5 538.5V540.5M1025.5 550.5V552.5M1025.5 684.5V686.5M1030.5 538.5V540.5M1030.5 550.5V552.5M1030.5 684.5V686.5M1035.5 538.5V540.5M1035.5 550.5V552.5M1035.5 684.5V686.5M1040.5 538.5V540.5M1040.5 550.5V552.5M1040.5 684.5V686.5M1045.5 538.5V540.5M1045.5 550.5V552.5M1045.5 684.5V686.5M1050.5 538.5V540.5M1050.5 550.5V552.5M1050.5 684.5V686.5M1055.5 538.5V540.5M1055.5 550.5V552.5M1055.5 684.5V686.5M1060.5 538.5V540.5M1060.5 550.5V552.5M1060.5 684.5V686.5M1065.5 538.5V540.5M1065.5 550.5V552.5M1065.5 684.5V686.5M1070.5 538.5V540.5M1070.5 550.5V552.5M1070.5 684.5V686.5M1075.5 538.5V540.5M1075.5 550.5V552.5M1075.5 684.5V686.5M1080.5 538.5V540.5M1080.5 550.5V552.5M1080.5 684.5V686.5M1085.5 538.5V540.5M1085.5 550.5V552.5M1085.5 684.5V686.5M1090.5 538.5V540.5M1090.5 550.5V552.5M1090.5 684.5V686.5M1095.5 538.5V540.5M1095.5 550.5V552.5M1095.5 684.5V686.5M1100.5 538.5V540.5M1100.5 550.5V552.5M1100.5 684.5V686.5M1105.5 538.5V540.5M1105.5 550.5V552.5M1105.5 684.5V686.5M1110.5 538.5V540.5M1110.5 550.5V552.5M1110.5 684.5V686.5M1115.5 538.5V540.5M1115.5 550.5V552.5M1115.5 684.5V686.5M1120.5 538.5V540.5M1120.5 550.5V552.5M1120.5 684.5V686.5M1125.5 538.5V540.5M1125.5 550.5V552.5M1125.5 684.5V686.5M1130.5 538.5V540.5M1130.5 550.5V552.5M1130.5 684.5V686.5M1135.5 538.5V540.5M1135.5 550.5V552.5M1135.5 684.5V686.5M1140.5 538.5V540.5M1140.5 550.5V552.5M1140.5 684.5V686.5M1145.5 538.5V540.5M1145.5 550.5V552.5M1145.5 684.5V686.5M1150.5 538.5V540.5M1150.5 550.5V552.5M1150.5 684.5V686.5M1155.5 538.5V540.5M1155.5 550.5V552.5M1155.5 684.5V686.5M1160.5 538.5V540.5M1160.5 550.5V552.5M1160.5 684.5V686.5M1165.5 538.5V540.5M1165.5 550.5V552.5M1165.5 684.5V686.5M1170.5 538.5V540.5M1170.5 550.5V552.5M1170.5 684.5V686.5M1175.5 538.5V540.5M1175.5 550.5V552.5M1175.5 684.5V686.5M1180.5 538.5V540.5M1180.5 550.5V552.5M1180.5 684.5V686.5M1185.5 538.5V540.5M1185.5 550.5V552.5M1185.5 684.5V686.5M1190.5 538.5V540.5M1190.5 550.5V552.5M1190.5 684.5V686.5M1195.5 538.5V540.5M1195.5 550.5V552.5M1195.5 684.5V686.5" stroke="#cfcfcf" stroke-width="1"/>
<path d="M1200.5 64.4 L1204 59.4 H1233.5 V69.4 H1204 Z" fill="#fff" stroke="#000" stroke-width="1.4"/>
<text x="1218.8" y="67.9" font-family="Liberation Sans" font-size="9.8" font-weight="normal" fill="#000" text-anchor="middle" textLength="26" lengthAdjust="spacingAndGlyphs">75.25</text>
<path d="M1200.5 170.2 L1204 165.2 H1233.5 V175.2 H1204 Z" fill="#fff" stroke="#000" stroke-width="1.4"/>
<text x="1218.8" y="173.7" font-family="Liberation Sans" font-size="10.5" font-weight="bold" fill="#000" text-anchor="middle" textLength="27" lengthAdjust="spacingAndGlyphs">27.13</text>
<path d="M1200.5 204.6 L1204 199.6 H1233.5 V209.6 H1204 Z" fill="#fff" stroke="#2f6b2f" stroke-width="1.4"/>
<text x="1218.8" y="208.1" font-family="Liberation Sans" font-size="9.8" font-weight="normal" fill="#000" text-anchor="middle" textLength="26" lengthAdjust="spacingAndGlyphs">24.88</text>
<path d="M1200.5 226.5 L1204 221.5 H1233.5 V231.5 H1204 Z" fill="#fff" stroke="#dd33dd" stroke-width="1.4"/>
<text x="1218.8" y="230" font-family="Liberation Sans" font-size="9.8" font-weight="normal" fill="#000" text-anchor="middle" textLength="26" lengthAdjust="spacingAndGlyphs">23.60</text>
<path d="M1200.5 276.8 L1204 271.8 H1233.5 V281.8 H1204 Z" fill="#fff" stroke="#b8364a" stroke-width="1.4"/>
<text x="1218.8" y="280.3" font-family="Liberation Sans" font-size="9.8" font-weight="normal" fill="#000" text-anchor="middle" textLength="26" lengthAdjust="spacingAndGlyphs">20.93</text>
<path d="M1200.5 381.6 L1204 376.6 H1233.5 V386.6 H1204 Z" fill="#fff" stroke="#1b1b78" stroke-width="1.4"/>
<text x="1218.8" y="385.1" font-family="Liberation Sans" font-size="9.8" font-weight="normal" fill="#000" text-anchor="middle" textLength="26" lengthAdjust="spacingAndGlyphs">16.23</text>
<path d="M1200.5 559.6 L1204 554.6 H1233.5 V564.6 H1204 Z" fill="#fff" stroke="#000" stroke-width="1.4"/>
<text x="1218.8" y="563.1" font-family="Liberation Sans" font-size="9.8" font-weight="normal" fill="#000" text-anchor="middle" textLength="26" lengthAdjust="spacingAndGlyphs">1.620</text>
<path d="M1200.5 571.3 L1204 566.3 H1233.5 V576.3 H1204 Z" fill="#fff" stroke="#d0303a" stroke-width="1.4"/>
<text x="1218.8" y="574.8" font-family="Liberation Sans" font-size="9.8" font-weight="normal" fill="#000" text-anchor="middle" textLength="26" lengthAdjust="spacingAndGlyphs">1.387</text>
<path d="M1200.5 629.3 L1204 624.3 H1233.5 V634.3 H1204 Z" fill="#fff" stroke="#4f80a8" stroke-width="1.4"/>
<text x="1218.8" y="632.8" font-family="Liberation Sans" font-size="9.8" font-weight="normal" fill="#000" text-anchor="middle" textLength="26" lengthAdjust="spacingAndGlyphs">0.232</text>
<text x="16" y="13.8" font-family="Liberation Sans" font-size="13.5" font-weight="bold" fill="#000" text-anchor="start" textLength="32" lengthAdjust="spacingAndGlyphs">$TNX</text>
<text x="52.8" y="12.6" font-family="Liberation Sans" font-size="10.2" font-weight="normal" fill="#000" text-anchor="start" textLength="161" lengthAdjust="spacingAndGlyphs">CBOE 10-Year US Treasury Yield</text>
<text x="219.4" y="12.6" font-family="Liberation Sans" font-size="8.6" font-weight="normal" fill="#000" text-anchor="start" textLength="23.6" lengthAdjust="spacingAndGlyphs">INDX</text>
<text x="15.8" y="25.8" font-family="Liberation Sans" font-size="9.2" font-weight="normal" fill="#000" text-anchor="start" textLength="51" lengthAdjust="spacingAndGlyphs">8-Apr-2022</text>
<text x="1202.3" y="13" font-family="Liberation Sans" font-size="10.5" font-weight="normal" fill="#555" text-anchor="end" textLength="89.6" lengthAdjust="spacingAndGlyphs">© StockCharts.com</text>
<text x="842" y="25.8" font-family="Liberation Sans" font-size="11" font-weight="bold" fill="#000" text-anchor="start" textLength="28" lengthAdjust="spacingAndGlyphs">Open</text>
<text x="874" y="25.8" font-family="Liberation Sans" font-size="10.2" font-weight="normal" fill="#000" text-anchor="start" textLength="26" lengthAdjust="spacingAndGlyphs">26.89</text>
<text x="906.6" y="25.8" font-family="Liberation Sans" font-size="11" font-weight="bold" fill="#000" text-anchor="start" textLength="23.4" lengthAdjust="spacingAndGlyphs">High</text>
<text x="933.9" y="25.8" font-family="Liberation Sans" font-size="10.2" font-weight="normal" fill="#000" text-anchor="start" textLength="26" lengthAdjust="spacingAndGlyphs">27.28</text>
<text x="966.7" y="25.8" font-family="Liberation Sans" font-size="11" font-weight="bold" fill="#000" text-anchor="start" textLength="23.3" lengthAdjust="spacingAndGlyphs">Low</text>
<text x="994" y="25.8" font-family="Liberation Sans" font-size="10.2" font-weight="normal" fill="#000" text-anchor="start" textLength="26" lengthAdjust="spacingAndGlyphs">26.68</text>
<text x="1026.9" y="25.8" font-family="Liberation Sans" font-size="11" font-weight="bold" fill="#000" text-anchor="start" textLength="30.6" lengthAdjust="spacingAndGlyphs">Close</text>
<text x="1061.7" y="25.8" font-family="Liberation Sans" font-size="10.2" font-weight="normal" fill="#000" text-anchor="start" textLength="26.5" lengthAdjust="spacingAndGlyphs">27.13</text>
<text x="1095" y="25.8" font-family="Liberation Sans" font-size="11" font-weight="bold" fill="#000" text-anchor="start" textLength="21.2" lengthAdjust="spacingAndGlyphs">Chg</text>
<text x="1119.6" y="25.8" font-family="Liberation Sans" font-size="10.2" font-weight="normal" fill="#000" text-anchor="start" textLength="72" lengthAdjust="spacingAndGlyphs">+0.61 (+2.30%)</text>
<path d="M1194.7 25.3 L1198.5 21.5 L1202.3 25.3 Z" fill="#3a8a3a"/>
<rect x="17" y="29" width="93.5" height="12.3" fill="#fff"/>
<rect x="17" y="161" width="118.5" height="12" fill="#fff"/>
<rect x="17" y="173" width="72" height="10.75" fill="#fff"/>
<rect x="17" y="183.75" width="77" height="10.75" fill="#fff"/>
<rect x="17" y="194.5" width="72" height="10.75" fill="#fff"/>
<rect x="17" y="205.25" width="72" height="10.75" fill="#fff"/>
<rect x="17" y="216" width="77" height="10.75" fill="#fff"/>
<rect x="17" y="552" width="215" height="13.5" fill="#fff"/>
<text x="31.3" y="39.2" font-family="Liberation Mono" font-size="10" font-weight="normal" fill="#000" text-anchor="start" textLength="79" lengthAdjust="spacingAndGlyphs">RSI(14) 75.25</text>
<path d="M19.5 39 L22 34 L23.5 36 L25 33 L28 39 Z" fill="#6e9370" stroke="#2f4f2f" stroke-width="0.8"/>
<text x="31.8" y="171.2" font-family="Liberation Mono" font-size="10" font-weight="normal" fill="#000" text-anchor="start" textLength="103.4" lengthAdjust="spacingAndGlyphs">$TNX (Daily) 27.13</text>
<path d="M20 165V171M19 166.5h1.5M20 169.5h-1M23 165V172M22 167h2v3h-2zM26.5 165V171M25.5 166h1.5" stroke="#000" stroke-width="1.2" fill="none"/>
<rect x="19" y="177.4" width="9" height="2" fill="#b8364a"/>
<text x="29.4" y="182.3" font-family="Liberation Sans" font-size="10" font-weight="normal" fill="#b8364a" text-anchor="start" textLength="59" lengthAdjust="spacingAndGlyphs">MA(50) 20.93</text>
<rect x="19" y="188.15" width="9" height="2" fill="#1b1b78"/>
<text x="29.4" y="193.05" font-family="Liberation Sans" font-size="10" font-weight="normal" fill="#1b1b78" text-anchor="start" textLength="65" lengthAdjust="spacingAndGlyphs">MA(200) 16.23</text>
<rect x="19" y="198.9" width="9" height="2" fill="#2f6b2f"/>
<text x="29.4" y="203.8" font-family="Liberation Sans" font-size="10" font-weight="normal" fill="#2f6b2f" text-anchor="start" textLength="59" lengthAdjust="spacingAndGlyphs">MA(10) 24.88</text>
<rect x="19" y="209.65" width="9" height="2" fill="#dd33dd"/>
<text x="29.4" y="214.55" font-family="Liberation Sans" font-size="10" font-weight="normal" fill="#dd33dd" text-anchor="start" textLength="59" lengthAdjust="spacingAndGlyphs">MA(21) 23.60</text>
<path d="M19.5 225.3h2v-4h-2zM22.5 225.3h2v-7h-2zM25.5 225.3h2v-5h-2z" fill="#666"/>
<text x="29.4" y="225.3" font-family="Liberation Sans" font-size="10" font-weight="normal" fill="#555" text-anchor="start" textLength="63" lengthAdjust="spacingAndGlyphs">Volume undef</text>
<rect x="19" y="557" width="9" height="2.2" fill="#000"/>
<text x="31.5" y="562.8" font-family="Liberation Mono" font-size="10" textLength="199.8" lengthAdjust="spacingAndGlyphs"><tspan fill="#000">MACD(12,26,9) 1.620</tspan><tspan fill="#c0303a">, 1.387</tspan><tspan fill="#6080a0">, 0.232</tspan></text>
<rect x="330" y="152" width="430" height="111.7" fill="none" stroke="#0a0aa0" stroke-width="2.1"/>
<text x="354.6" y="189.6" font-family="Liberation Sans" font-size="27" font-weight="bold" fill="#0808e0" text-anchor="start" textLength="343" lengthAdjust="spacingAndGlyphs">Yield On 10-Year Treasury</text>
<text x="354.6" y="221.9" font-family="Liberation Sans" font-size="27" font-weight="bold" fill="#0808e0" text-anchor="start" textLength="377" lengthAdjust="spacingAndGlyphs">Bond Rises As Fed Lays Out</text>
<text x="354.6" y="254" font-family="Liberation Sans" font-size="27" font-weight="bold" fill="#0808e0" text-anchor="start" textLength="161.5" lengthAdjust="spacingAndGlyphs">Policy Plans</text>
<path d="M1241 204.2 L1215 193" stroke="#0a0ae0" stroke-width="3.3"/><path d="M1206 188.8 L1218.8 187 L1213.6 197.6 Z" fill="#0a0ae0"/>
</svg></body></html>
